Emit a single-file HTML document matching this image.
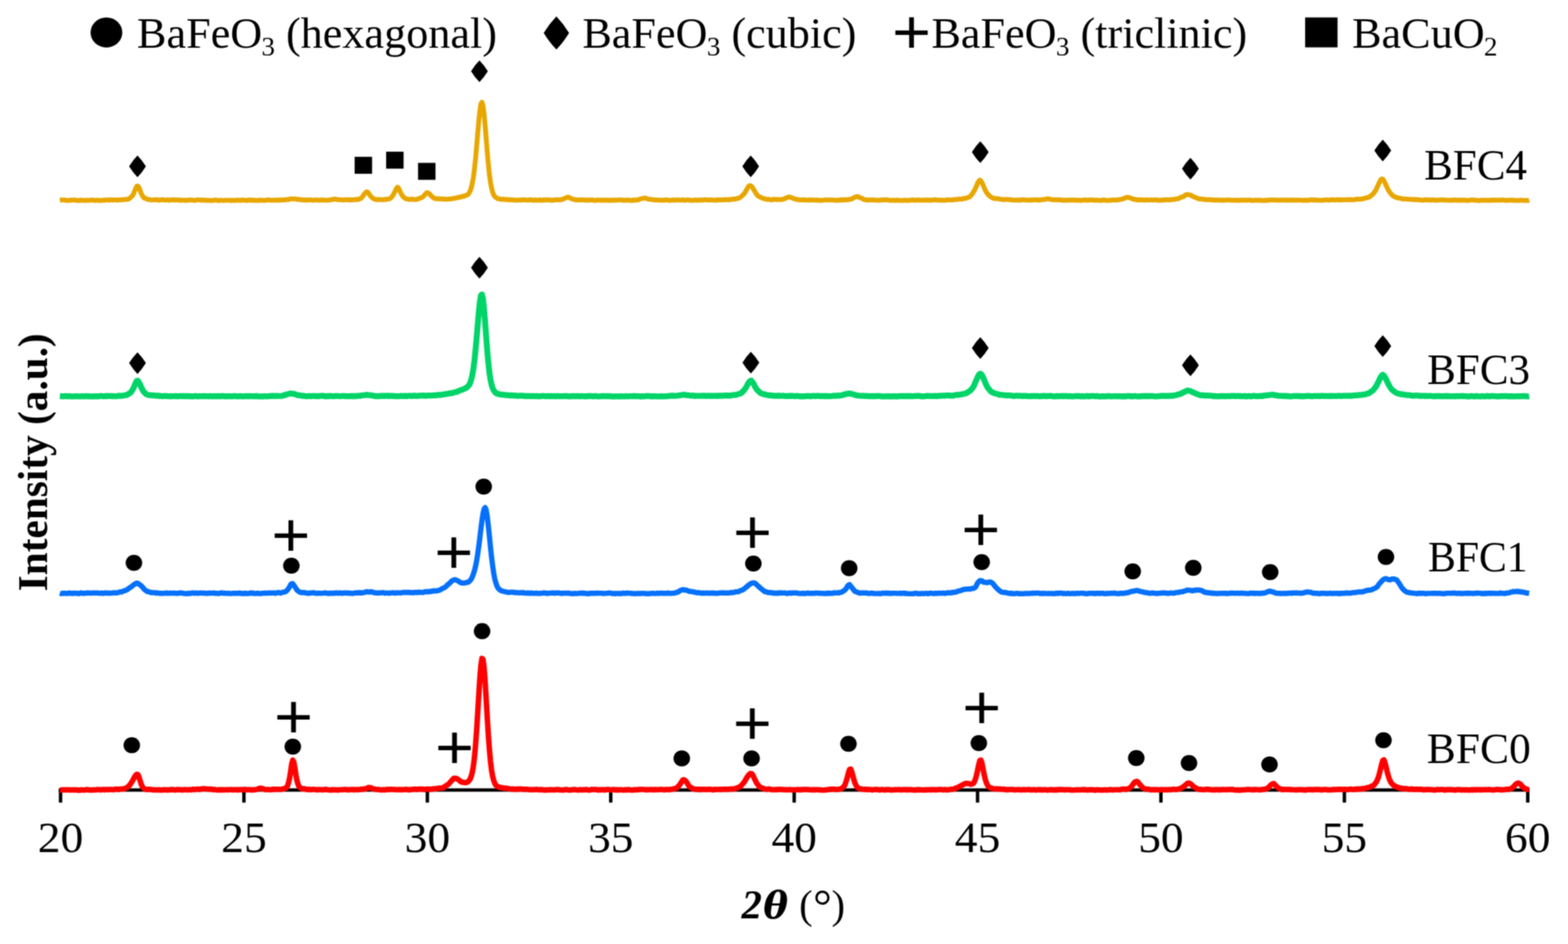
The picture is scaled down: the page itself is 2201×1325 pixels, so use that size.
<!DOCTYPE html>
<html lang="en"><head><meta charset="utf-8"><title>XRD patterns of BFC samples</title>
<style>
html,body{margin:0;padding:0;background:#fff;}
body{width:2201px;height:1325px;overflow:hidden;}
svg{display:block;}
text{font-family:"Liberation Serif", "DejaVu Serif", serif;fill:#000;}
.tk{font-size:62px;text-anchor:middle;}
.lg{font-size:62px;}
.sb{font-size:38px;}
.lb{font-size:62px;}
.pl{font-family:"Liberation Sans","DejaVu Sans",sans-serif;font-size:87px;}
.ay{font-size:60px;font-weight:bold;}
.a2{font-size:57px;font-weight:bold;font-style:italic;}
.at{font-family:"DejaVu Serif","Liberation Serif",serif;font-size:52px;font-weight:bold;font-style:italic;}
.au{font-size:57px;}
.dg{font-size:66px;}
.cv{fill:none;stroke-linejoin:round;stroke-linecap:butt;}
</style></head><body>
<svg width="2201" height="1325" viewBox="0 0 2201 1325">
<defs><filter id="soft" x="0" y="0" width="2201" height="1325" filterUnits="userSpaceOnUse" color-interpolation-filters="sRGB"><feConvolveMatrix order="3" kernelMatrix="1 2 1 2 4 2 1 2 1" divisor="16" edgeMode="duplicate" preserveAlpha="true"/></filter></defs>
<g filter="url(#soft)">
<rect width="2201" height="1325" fill="#fff"/>
<g stroke="#000" stroke-width="4.8" fill="none">
<line x1="82.5" y1="1108.8" x2="2147.0" y2="1108.8"/>
<line x1="85.0" y1="1108.8" x2="85.0" y2="1126.5"/>
<line x1="342.4" y1="1108.8" x2="342.4" y2="1126.5"/>
<line x1="599.9" y1="1108.8" x2="599.9" y2="1126.5"/>
<line x1="857.3" y1="1108.8" x2="857.3" y2="1126.5"/>
<line x1="1114.8" y1="1108.8" x2="1114.8" y2="1126.5"/>
<line x1="1372.2" y1="1108.8" x2="1372.2" y2="1126.5"/>
<line x1="1629.6" y1="1108.8" x2="1629.6" y2="1126.5"/>
<line x1="1887.1" y1="1108.8" x2="1887.1" y2="1126.5"/>
<line x1="2144.5" y1="1108.8" x2="2144.5" y2="1126.5"/>
</g>
<text class="tk" transform="translate(85.0,1195.7) scale(1.030,1)">20</text>
<text class="tk" transform="translate(342.4,1195.7) scale(1.030,1)">25</text>
<text class="tk" transform="translate(599.9,1195.7) scale(1.030,1)">30</text>
<text class="tk" transform="translate(857.3,1195.7) scale(1.030,1)">35</text>
<text class="tk" transform="translate(1114.8,1195.7) scale(1.030,1)">40</text>
<text class="tk" transform="translate(1372.2,1195.7) scale(1.030,1)">45</text>
<text class="tk" transform="translate(1629.6,1195.7) scale(1.030,1)">50</text>
<text class="tk" transform="translate(1887.1,1195.7) scale(1.030,1)">55</text>
<text class="tk" transform="translate(2144.5,1195.7) scale(1.030,1)">60</text>
<path class="cv" stroke="#E8A600" stroke-width="6.8" d="M84.0,280.9 L85.5,280.7 L87.0,280.8 L88.5,280.7 L90.0,280.6 L91.5,280.8 L93.0,281.3 L94.5,281.4 L96.0,281.4 L97.5,281.0 L99.0,281.1 L100.5,280.9 L102.0,280.8 L103.5,280.7 L105.0,280.7 L106.5,281.2 L108.0,281.4 L109.5,281.4 L111.0,281.4 L112.5,281.0 L114.0,280.9 L115.5,281.1 L117.0,281.2 L118.5,281.4 L120.0,281.4 L121.5,280.9 L123.0,281.1 L124.5,281.2 L126.0,281.1 L127.5,280.8 L129.0,280.9 L130.5,280.7 L132.0,281.2 L133.5,281.3 L135.0,281.2 L136.5,280.9 L138.0,281.3 L139.5,281.1 L141.0,281.3 L142.5,281.4 L144.0,281.1 L145.5,281.0 L147.0,281.0 L148.5,280.9 L150.0,280.7 L151.5,280.7 L153.0,281.0 L154.5,280.6 L156.0,280.4 L157.5,280.8 L159.0,280.6 L160.5,280.7 L162.0,280.7 L163.5,280.6 L165.0,281.0 L166.5,280.6 L168.0,280.5 L169.5,280.3 L171.0,280.5 L172.5,280.2 L174.0,280.1 L175.5,280.2 L177.0,279.9 L178.5,279.7 L180.0,279.6 L181.5,278.6 L183.0,277.5 L184.5,276.2 L186.0,274.6 L187.5,271.9 L189.0,268.1 L190.5,264.4 L192.0,261.4 L193.5,261.1 L195.0,263.0 L196.5,267.0 L198.0,270.9 L199.5,274.1 L201.0,276.3 L202.5,278.0 L204.0,278.4 L205.5,279.0 L207.0,279.8 L208.5,280.2 L210.0,280.1 L211.5,280.6 L213.0,280.6 L214.5,280.7 L216.0,280.5 L217.5,280.3 L219.0,280.5 L220.5,280.4 L222.0,280.5 L223.5,281.0 L225.0,280.8 L226.5,280.4 L228.0,280.4 L229.5,280.4 L231.0,280.9 L232.5,280.8 L234.0,280.7 L235.5,280.5 L237.0,281.1 L238.5,281.0 L240.0,280.7 L241.5,280.5 L243.0,280.5 L244.5,280.5 L246.0,280.9 L247.5,280.7 L249.0,280.5 L250.5,280.8 L252.0,280.7 L253.5,281.3 L255.0,280.8 L256.5,281.0 L258.0,281.2 L259.5,281.0 L261.0,281.4 L262.5,281.1 L264.0,280.9 L265.5,280.9 L267.0,280.6 L268.5,280.8 L270.0,280.8 L271.5,281.2 L273.0,281.3 L274.5,281.1 L276.0,280.7 L277.5,280.7 L279.0,280.7 L280.5,280.7 L282.0,280.7 L283.5,281.2 L285.0,280.8 L286.5,280.6 L288.0,281.2 L289.5,281.1 L291.0,281.4 L292.5,281.1 L294.0,281.4 L295.5,281.3 L297.0,281.3 L298.5,281.3 L300.0,281.2 L301.5,280.8 L303.0,280.7 L304.5,281.2 L306.0,281.4 L307.5,281.5 L309.0,281.1 L310.5,281.2 L312.0,281.3 L313.5,281.3 L315.0,281.4 L316.5,281.2 L318.0,281.2 L319.5,281.2 L321.0,281.0 L322.5,281.3 L324.0,281.5 L325.5,280.9 L327.0,281.3 L328.5,281.5 L330.0,281.3 L331.5,280.8 L333.0,281.2 L334.5,280.9 L336.0,281.3 L337.5,281.3 L339.0,280.8 L340.5,280.7 L342.0,281.0 L343.5,281.1 L345.0,281.2 L346.5,281.4 L348.0,281.0 L349.5,280.7 L351.0,281.2 L352.5,280.7 L354.0,281.2 L355.5,280.8 L357.0,281.2 L358.5,281.3 L360.0,281.4 L361.5,281.2 L363.0,281.4 L364.5,280.9 L366.0,281.1 L367.5,280.9 L369.0,281.3 L370.5,281.3 L372.0,281.1 L373.5,281.1 L375.0,280.7 L376.5,280.5 L378.0,280.9 L379.5,280.9 L381.0,281.2 L382.5,281.1 L384.0,280.8 L385.5,280.8 L387.0,281.1 L388.5,281.0 L390.0,280.6 L391.5,281.0 L393.0,281.1 L394.5,280.6 L396.0,280.7 L397.5,280.6 L399.0,280.7 L400.5,280.4 L402.0,280.1 L403.5,280.0 L405.0,280.2 L406.5,279.5 L408.0,279.0 L409.5,279.1 L411.0,279.3 L412.5,279.1 L414.0,279.1 L415.5,279.6 L417.0,279.8 L418.5,279.6 L420.0,280.2 L421.5,280.1 L423.0,280.2 L424.5,280.7 L426.0,280.6 L427.5,280.9 L429.0,280.6 L430.5,281.0 L432.0,280.7 L433.5,280.5 L435.0,280.7 L436.5,280.7 L438.0,280.8 L439.5,281.2 L441.0,281.1 L442.5,280.6 L444.0,280.7 L445.5,280.8 L447.0,280.9 L448.5,281.0 L450.0,280.9 L451.5,280.6 L453.0,280.6 L454.5,281.0 L456.0,280.8 L457.5,281.0 L459.0,281.2 L460.5,280.9 L462.0,280.8 L463.5,280.6 L465.0,280.1 L466.5,280.1 L468.0,279.7 L469.5,279.7 L471.0,279.4 L472.5,279.9 L474.0,280.2 L475.5,280.4 L477.0,280.4 L478.5,280.3 L480.0,280.7 L481.5,280.6 L483.0,280.8 L484.5,280.4 L486.0,280.3 L487.5,280.2 L489.0,280.7 L490.5,280.4 L492.0,280.8 L493.5,280.5 L495.0,280.5 L496.5,280.3 L498.0,280.4 L499.5,279.9 L501.0,279.9 L502.5,280.1 L504.0,279.4 L505.5,279.0 L507.0,277.9 L508.5,276.5 L510.0,274.4 L511.5,272.1 L513.0,270.5 L514.5,269.2 L516.0,269.6 L517.5,271.4 L519.0,273.8 L520.5,275.4 L522.0,277.1 L523.5,278.3 L525.0,279.0 L526.5,279.8 L528.0,280.0 L529.5,280.3 L531.0,279.9 L532.5,280.1 L534.0,280.2 L535.5,280.3 L537.0,280.2 L538.5,280.3 L540.0,279.9 L541.5,280.1 L543.0,279.6 L544.5,279.4 L546.0,279.3 L547.5,278.7 L549.0,277.4 L550.5,275.7 L552.0,273.5 L553.5,270.7 L555.0,267.6 L556.5,264.5 L558.0,262.8 L559.5,264.0 L561.0,267.4 L562.5,270.6 L564.0,273.5 L565.5,275.5 L567.0,277.0 L568.5,278.2 L570.0,279.0 L571.5,279.4 L573.0,279.4 L574.5,279.9 L576.0,279.9 L577.5,279.6 L579.0,279.4 L580.5,280.0 L582.0,280.2 L583.5,280.2 L585.0,279.8 L586.5,279.3 L588.0,278.7 L589.5,278.3 L591.0,277.5 L592.5,277.0 L594.0,275.9 L595.5,274.4 L597.0,272.3 L598.5,270.8 L600.0,270.3 L601.5,271.3 L603.0,272.2 L604.5,274.1 L606.0,275.7 L607.5,276.9 L609.0,278.1 L610.5,278.4 L612.0,278.9 L613.5,279.0 L615.0,279.0 L616.5,279.0 L618.0,279.3 L619.5,279.2 L621.0,279.1 L622.5,279.7 L624.0,279.4 L625.5,279.7 L627.0,279.6 L628.5,279.5 L630.0,279.3 L631.5,279.4 L633.0,279.2 L634.5,278.9 L636.0,278.6 L637.5,278.4 L639.0,278.2 L640.5,277.8 L642.0,277.5 L643.5,276.9 L645.0,277.0 L646.5,276.6 L648.0,275.9 L649.5,275.5 L651.0,275.6 L652.5,274.9 L654.0,274.3 L655.5,273.8 L657.0,272.9 L658.5,270.8 L660.0,268.0 L661.5,263.7 L663.0,257.2 L664.5,249.0 L666.0,237.1 L667.5,223.3 L669.0,206.1 L670.5,187.9 L672.0,170.7 L673.5,156.0 L675.0,146.0 L676.5,143.5 L678.0,148.5 L679.5,160.4 L681.0,176.4 L682.5,195.2 L684.0,214.0 L685.5,230.7 L687.0,245.0 L688.5,256.1 L690.0,264.0 L691.5,269.8 L693.0,273.7 L694.5,275.9 L696.0,277.0 L697.5,278.1 L699.0,279.0 L700.5,279.0 L702.0,279.4 L703.5,279.8 L705.0,279.8 L706.5,279.5 L708.0,279.9 L709.5,279.8 L711.0,280.3 L712.5,280.3 L714.0,280.1 L715.5,280.5 L717.0,280.5 L718.5,280.3 L720.0,280.6 L721.5,280.8 L723.0,280.9 L724.5,281.0 L726.0,280.8 L727.5,280.8 L729.0,280.8 L730.5,280.7 L732.0,281.0 L733.5,280.7 L735.0,280.4 L736.5,280.7 L738.0,280.7 L739.5,280.8 L741.0,280.8 L742.5,280.6 L744.0,280.5 L745.5,280.4 L747.0,280.8 L748.5,281.1 L750.0,281.1 L751.5,280.6 L753.0,281.1 L754.5,281.2 L756.0,281.0 L757.5,280.5 L759.0,281.0 L760.5,281.0 L762.0,281.0 L763.5,280.5 L765.0,280.9 L766.5,280.5 L768.0,280.7 L769.5,280.5 L771.0,280.6 L772.5,281.0 L774.0,281.0 L775.5,281.1 L777.0,280.7 L778.5,280.6 L780.0,280.7 L781.5,280.3 L783.0,280.4 L784.5,280.7 L786.0,280.5 L787.5,280.4 L789.0,279.6 L790.5,279.3 L792.0,278.8 L793.5,278.2 L795.0,277.4 L796.5,276.8 L798.0,276.6 L799.5,277.6 L801.0,278.5 L802.5,278.8 L804.0,279.5 L805.5,279.8 L807.0,280.2 L808.5,280.6 L810.0,280.5 L811.5,280.7 L813.0,280.5 L814.5,280.7 L816.0,280.4 L817.5,280.5 L819.0,280.6 L820.5,281.0 L822.0,280.7 L823.5,281.0 L825.0,280.6 L826.5,281.2 L828.0,280.8 L829.5,280.6 L831.0,280.6 L832.5,281.1 L834.0,281.1 L835.5,281.3 L837.0,281.1 L838.5,280.7 L840.0,280.8 L841.5,280.9 L843.0,281.3 L844.5,280.9 L846.0,280.7 L847.5,281.1 L849.0,280.8 L850.5,281.2 L852.0,280.9 L853.5,281.0 L855.0,281.1 L856.5,281.3 L858.0,280.8 L859.5,281.2 L861.0,280.8 L862.5,281.1 L864.0,280.7 L865.5,281.0 L867.0,280.8 L868.5,280.7 L870.0,280.5 L871.5,280.7 L873.0,280.7 L874.5,281.2 L876.0,281.1 L877.5,280.9 L879.0,281.3 L880.5,280.8 L882.0,280.7 L883.5,281.1 L885.0,281.3 L886.5,281.1 L888.0,281.3 L889.5,280.6 L891.0,281.0 L892.5,280.9 L894.0,280.7 L895.5,280.6 L897.0,279.9 L898.5,279.4 L900.0,278.8 L901.5,278.6 L903.0,278.3 L904.5,278.1 L906.0,278.0 L907.5,278.6 L909.0,279.2 L910.5,279.7 L912.0,279.6 L913.5,279.8 L915.0,280.0 L916.5,280.2 L918.0,280.6 L919.5,280.5 L921.0,280.8 L922.5,280.7 L924.0,280.7 L925.5,281.0 L927.0,281.2 L928.5,280.8 L930.0,280.8 L931.5,281.2 L933.0,280.8 L934.5,280.5 L936.0,280.6 L937.5,281.0 L939.0,281.1 L940.5,281.3 L942.0,281.1 L943.5,280.7 L945.0,280.7 L946.5,281.0 L948.0,280.9 L949.5,280.7 L951.0,280.7 L952.5,280.8 L954.0,280.8 L955.5,280.8 L957.0,280.6 L958.5,280.5 L960.0,281.0 L961.5,281.1 L963.0,280.9 L964.5,280.7 L966.0,280.7 L967.5,280.9 L969.0,281.2 L970.5,281.0 L972.0,281.3 L973.5,281.1 L975.0,280.7 L976.5,280.9 L978.0,281.0 L979.5,281.0 L981.0,281.1 L982.5,280.6 L984.0,280.7 L985.5,281.0 L987.0,280.6 L988.5,280.4 L990.0,280.4 L991.5,280.5 L993.0,280.6 L994.5,280.6 L996.0,280.8 L997.5,280.5 L999.0,280.5 L1000.5,280.8 L1002.0,280.8 L1003.5,281.0 L1005.0,281.1 L1006.5,280.6 L1008.0,280.5 L1009.5,280.6 L1011.0,280.6 L1012.5,280.4 L1014.0,280.7 L1015.5,280.3 L1017.0,280.3 L1018.5,280.0 L1020.0,280.4 L1021.5,280.3 L1023.0,280.5 L1024.5,279.9 L1026.0,280.0 L1027.5,279.8 L1029.0,279.3 L1030.5,279.5 L1032.0,279.5 L1033.5,278.7 L1035.0,278.7 L1036.5,278.3 L1038.0,277.6 L1039.5,276.8 L1041.0,275.5 L1042.5,273.9 L1044.0,272.5 L1045.5,270.7 L1047.0,268.0 L1048.5,265.3 L1050.0,262.6 L1051.5,260.9 L1053.0,260.4 L1054.5,261.2 L1056.0,262.8 L1057.5,265.4 L1059.0,267.7 L1060.5,270.4 L1062.0,272.8 L1063.5,274.6 L1065.0,275.4 L1066.5,276.5 L1068.0,277.0 L1069.5,277.8 L1071.0,278.7 L1072.5,278.7 L1074.0,279.3 L1075.5,279.7 L1077.0,279.9 L1078.5,279.6 L1080.0,280.0 L1081.5,280.3 L1083.0,280.5 L1084.5,279.9 L1086.0,279.7 L1087.5,279.8 L1089.0,280.0 L1090.5,280.1 L1092.0,279.8 L1093.5,280.1 L1095.0,280.2 L1096.5,280.1 L1098.0,279.8 L1099.5,279.5 L1101.0,279.2 L1102.5,278.2 L1104.0,277.7 L1105.5,276.9 L1107.0,276.4 L1108.5,276.8 L1110.0,277.0 L1111.5,277.6 L1113.0,278.2 L1114.5,279.0 L1116.0,279.2 L1117.5,279.9 L1119.0,279.8 L1120.5,280.5 L1122.0,280.3 L1123.5,280.7 L1125.0,280.7 L1126.5,280.6 L1128.0,280.5 L1129.5,280.6 L1131.0,280.9 L1132.5,280.8 L1134.0,280.8 L1135.5,280.6 L1137.0,280.8 L1138.5,280.6 L1140.0,280.7 L1141.5,280.9 L1143.0,280.9 L1144.5,280.9 L1146.0,281.0 L1147.5,280.7 L1149.0,281.1 L1150.5,281.1 L1152.0,281.1 L1153.5,281.3 L1155.0,281.0 L1156.5,280.8 L1158.0,280.7 L1159.5,280.7 L1161.0,280.7 L1162.5,280.7 L1164.0,280.6 L1165.5,280.8 L1167.0,280.7 L1168.5,280.7 L1170.0,280.9 L1171.5,280.8 L1173.0,281.1 L1174.5,281.2 L1176.0,280.8 L1177.5,281.1 L1179.0,280.7 L1180.5,280.4 L1182.0,281.0 L1183.5,280.5 L1185.0,280.2 L1186.5,280.7 L1188.0,280.2 L1189.5,280.4 L1191.0,280.3 L1192.5,279.8 L1194.0,279.4 L1195.5,279.4 L1197.0,278.5 L1198.5,277.5 L1200.0,276.8 L1201.5,276.4 L1203.0,275.9 L1204.5,275.9 L1206.0,277.0 L1207.5,277.5 L1209.0,278.1 L1210.5,278.6 L1212.0,279.8 L1213.5,280.0 L1215.0,280.5 L1216.5,280.6 L1218.0,281.0 L1219.5,280.7 L1221.0,280.6 L1222.5,280.8 L1224.0,280.5 L1225.5,280.6 L1227.0,280.9 L1228.5,280.9 L1230.0,280.9 L1231.5,281.2 L1233.0,281.0 L1234.5,281.1 L1236.0,280.9 L1237.5,280.6 L1239.0,280.7 L1240.5,280.6 L1242.0,280.5 L1243.5,280.6 L1245.0,280.5 L1246.5,280.7 L1248.0,281.0 L1249.5,281.2 L1251.0,281.3 L1252.5,281.0 L1254.0,281.1 L1255.5,281.3 L1257.0,281.0 L1258.5,281.3 L1260.0,280.8 L1261.5,281.2 L1263.0,281.3 L1264.5,281.4 L1266.0,281.4 L1267.5,281.3 L1269.0,281.0 L1270.5,281.1 L1272.0,281.3 L1273.5,281.1 L1275.0,281.1 L1276.5,281.3 L1278.0,280.9 L1279.5,280.8 L1281.0,280.5 L1282.5,281.0 L1284.0,281.0 L1285.5,281.1 L1287.0,280.8 L1288.5,280.6 L1290.0,280.8 L1291.5,281.1 L1293.0,280.9 L1294.5,280.8 L1296.0,280.8 L1297.5,281.1 L1299.0,280.7 L1300.5,281.0 L1302.0,280.6 L1303.5,280.9 L1305.0,281.0 L1306.5,280.9 L1308.0,281.0 L1309.5,280.7 L1311.0,280.5 L1312.5,280.5 L1314.0,280.5 L1315.5,280.8 L1317.0,280.8 L1318.5,280.8 L1320.0,281.1 L1321.5,281.0 L1323.0,281.0 L1324.5,281.1 L1326.0,281.1 L1327.5,280.9 L1329.0,280.5 L1330.5,280.5 L1332.0,280.6 L1333.5,280.7 L1335.0,280.7 L1336.5,280.6 L1338.0,280.5 L1339.5,280.1 L1341.0,280.1 L1342.5,279.8 L1344.0,279.9 L1345.5,279.5 L1347.0,279.2 L1348.5,279.6 L1350.0,279.6 L1351.5,279.1 L1353.0,278.5 L1354.5,278.6 L1356.0,278.4 L1357.5,277.5 L1359.0,277.2 L1360.5,276.6 L1362.0,275.4 L1363.5,273.7 L1365.0,271.7 L1366.5,269.4 L1368.0,266.8 L1369.5,263.9 L1371.0,260.4 L1372.5,256.6 L1374.0,254.2 L1375.5,252.8 L1377.0,254.1 L1378.5,256.5 L1380.0,259.8 L1381.5,263.4 L1383.0,267.1 L1384.5,269.6 L1386.0,271.6 L1387.5,273.6 L1389.0,275.0 L1390.5,276.2 L1392.0,277.1 L1393.5,277.8 L1395.0,278.5 L1396.5,278.5 L1398.0,278.9 L1399.5,278.8 L1401.0,279.0 L1402.5,279.1 L1404.0,279.7 L1405.5,279.7 L1407.0,280.0 L1408.5,280.3 L1410.0,280.1 L1411.5,279.9 L1413.0,279.9 L1414.5,280.2 L1416.0,280.2 L1417.5,280.0 L1419.0,280.5 L1420.5,280.6 L1422.0,280.8 L1423.5,280.9 L1425.0,280.9 L1426.5,280.9 L1428.0,280.9 L1429.5,280.7 L1431.0,280.9 L1432.5,281.1 L1434.0,280.6 L1435.5,280.4 L1437.0,280.3 L1438.5,280.5 L1440.0,280.9 L1441.5,280.8 L1443.0,281.0 L1444.5,280.8 L1446.0,280.8 L1447.5,280.6 L1449.0,280.8 L1450.5,280.6 L1452.0,280.3 L1453.5,280.5 L1455.0,280.6 L1456.5,280.9 L1458.0,280.5 L1459.5,280.8 L1461.0,280.7 L1462.5,280.1 L1464.0,280.1 L1465.5,280.0 L1467.0,279.8 L1468.5,279.4 L1470.0,279.0 L1471.5,279.1 L1473.0,279.4 L1474.5,279.8 L1476.0,279.8 L1477.5,280.4 L1479.0,280.5 L1480.5,280.3 L1482.0,280.4 L1483.5,280.3 L1485.0,280.6 L1486.5,280.4 L1488.0,280.7 L1489.5,280.6 L1491.0,281.0 L1492.5,281.1 L1494.0,280.8 L1495.5,281.1 L1497.0,281.0 L1498.5,280.8 L1500.0,281.2 L1501.5,280.7 L1503.0,280.8 L1504.5,280.9 L1506.0,280.7 L1507.5,280.9 L1509.0,281.2 L1510.5,280.9 L1512.0,281.1 L1513.5,280.8 L1515.0,281.2 L1516.5,281.4 L1518.0,280.9 L1519.5,281.1 L1521.0,280.9 L1522.5,280.6 L1524.0,280.6 L1525.5,281.0 L1527.0,281.0 L1528.5,281.0 L1530.0,280.7 L1531.5,280.6 L1533.0,280.7 L1534.5,280.9 L1536.0,281.2 L1537.5,281.0 L1539.0,280.9 L1540.5,281.2 L1542.0,281.2 L1543.5,281.2 L1545.0,281.3 L1546.5,281.1 L1548.0,280.8 L1549.5,280.6 L1551.0,280.9 L1552.5,281.1 L1554.0,281.3 L1555.5,281.3 L1557.0,281.1 L1558.5,280.9 L1560.0,281.2 L1561.5,280.7 L1563.0,280.7 L1564.5,280.7 L1566.0,280.8 L1567.5,280.8 L1569.0,280.4 L1570.5,280.4 L1572.0,280.0 L1573.5,279.8 L1575.0,279.4 L1576.5,278.9 L1578.0,278.6 L1579.5,277.9 L1581.0,277.1 L1582.5,276.9 L1584.0,277.2 L1585.5,277.4 L1587.0,277.9 L1588.5,278.7 L1590.0,279.4 L1591.5,279.5 L1593.0,280.1 L1594.5,280.0 L1596.0,280.6 L1597.5,280.4 L1599.0,280.8 L1600.5,280.4 L1602.0,280.6 L1603.5,280.5 L1605.0,280.9 L1606.5,281.0 L1608.0,280.6 L1609.5,280.4 L1611.0,280.8 L1612.5,280.8 L1614.0,280.7 L1615.5,280.7 L1617.0,280.7 L1618.5,280.8 L1620.0,280.7 L1621.5,280.5 L1623.0,280.6 L1624.5,281.1 L1626.0,281.1 L1627.5,281.0 L1629.0,281.1 L1630.5,280.8 L1632.0,280.6 L1633.5,280.8 L1635.0,280.4 L1636.5,280.7 L1638.0,280.3 L1639.5,280.5 L1641.0,280.4 L1642.5,280.6 L1644.0,280.0 L1645.5,280.2 L1647.0,280.2 L1648.5,279.6 L1650.0,279.6 L1651.5,279.1 L1653.0,279.0 L1654.5,278.8 L1656.0,277.7 L1657.5,277.1 L1659.0,276.5 L1660.5,276.1 L1662.0,275.5 L1663.5,274.1 L1665.0,273.3 L1666.5,273.0 L1668.0,273.2 L1669.5,273.5 L1671.0,273.8 L1672.5,274.6 L1674.0,275.4 L1675.5,276.2 L1677.0,276.8 L1678.5,277.2 L1680.0,278.0 L1681.5,278.7 L1683.0,279.3 L1684.5,279.2 L1686.0,279.2 L1687.5,279.6 L1689.0,279.7 L1690.5,280.0 L1692.0,279.9 L1693.5,280.3 L1695.0,280.4 L1696.5,280.3 L1698.0,280.2 L1699.5,280.5 L1701.0,280.3 L1702.5,280.8 L1704.0,280.6 L1705.5,281.0 L1707.0,280.6 L1708.5,280.6 L1710.0,280.9 L1711.5,280.9 L1713.0,280.8 L1714.5,281.1 L1716.0,280.7 L1717.5,281.1 L1719.0,281.0 L1720.5,280.8 L1722.0,280.7 L1723.5,280.7 L1725.0,280.9 L1726.5,280.9 L1728.0,280.9 L1729.5,281.0 L1731.0,281.2 L1732.5,281.2 L1734.0,280.9 L1735.5,281.0 L1737.0,281.1 L1738.5,281.3 L1740.0,281.0 L1741.5,281.0 L1743.0,281.2 L1744.5,280.9 L1746.0,280.8 L1747.5,281.0 L1749.0,280.9 L1750.5,281.2 L1752.0,280.9 L1753.5,280.8 L1755.0,281.0 L1756.5,281.0 L1758.0,281.4 L1759.5,281.4 L1761.0,281.1 L1762.5,281.0 L1764.0,281.1 L1765.5,281.0 L1767.0,281.1 L1768.5,280.9 L1770.0,281.2 L1771.5,281.4 L1773.0,281.3 L1774.5,281.3 L1776.0,281.4 L1777.5,281.0 L1779.0,281.3 L1780.5,280.9 L1782.0,280.7 L1783.5,280.8 L1785.0,280.7 L1786.5,280.7 L1788.0,280.9 L1789.5,280.7 L1791.0,280.8 L1792.5,280.8 L1794.0,281.2 L1795.5,280.8 L1797.0,280.9 L1798.5,280.9 L1800.0,280.7 L1801.5,280.8 L1803.0,280.8 L1804.5,280.8 L1806.0,280.9 L1807.5,281.0 L1809.0,280.9 L1810.5,280.9 L1812.0,281.0 L1813.5,281.0 L1815.0,280.7 L1816.5,281.0 L1818.0,280.9 L1819.5,281.2 L1821.0,280.8 L1822.5,280.9 L1824.0,280.8 L1825.5,281.0 L1827.0,281.2 L1828.5,281.1 L1830.0,281.1 L1831.5,281.3 L1833.0,280.9 L1834.5,281.3 L1836.0,281.0 L1837.5,281.0 L1839.0,280.7 L1840.5,280.5 L1842.0,280.5 L1843.5,280.8 L1845.0,280.6 L1846.5,281.0 L1848.0,280.7 L1849.5,280.9 L1851.0,281.2 L1852.5,281.1 L1854.0,281.2 L1855.5,281.2 L1857.0,281.2 L1858.5,280.6 L1860.0,280.7 L1861.5,280.6 L1863.0,280.7 L1864.5,280.9 L1866.0,281.0 L1867.5,280.6 L1869.0,280.4 L1870.5,280.3 L1872.0,280.7 L1873.5,280.9 L1875.0,280.5 L1876.5,280.3 L1878.0,280.2 L1879.5,280.8 L1881.0,280.3 L1882.5,280.5 L1884.0,280.8 L1885.5,280.3 L1887.0,280.5 L1888.5,280.3 L1890.0,280.4 L1891.5,280.3 L1893.0,280.0 L1894.5,280.4 L1896.0,280.2 L1897.5,280.5 L1899.0,280.3 L1900.5,280.4 L1902.0,280.2 L1903.5,279.6 L1905.0,279.2 L1906.5,279.7 L1908.0,279.6 L1909.5,279.5 L1911.0,279.4 L1912.5,278.9 L1914.0,278.8 L1915.5,278.5 L1917.0,277.8 L1918.5,277.5 L1920.0,277.4 L1921.5,276.6 L1923.0,276.0 L1924.5,274.5 L1926.0,273.4 L1927.5,272.0 L1929.0,270.2 L1930.5,268.1 L1932.0,265.2 L1933.5,262.1 L1935.0,258.7 L1936.5,255.4 L1938.0,252.7 L1939.5,251.2 L1941.0,251.3 L1942.5,253.6 L1944.0,256.3 L1945.5,259.9 L1947.0,263.0 L1948.5,266.4 L1950.0,268.6 L1951.5,270.7 L1953.0,272.4 L1954.5,274.2 L1956.0,275.4 L1957.5,275.9 L1959.0,276.5 L1960.5,277.4 L1962.0,277.7 L1963.5,277.9 L1965.0,278.1 L1966.5,278.7 L1968.0,279.1 L1969.5,279.4 L1971.0,279.1 L1972.5,279.4 L1974.0,279.3 L1975.5,279.6 L1977.0,279.6 L1978.5,279.6 L1980.0,279.9 L1981.5,279.8 L1983.0,280.2 L1984.5,280.0 L1986.0,280.0 L1987.5,280.4 L1989.0,280.2 L1990.5,280.2 L1992.0,280.6 L1993.5,280.6 L1995.0,280.8 L1996.5,280.9 L1998.0,281.0 L1999.5,280.5 L2001.0,280.5 L2002.5,280.6 L2004.0,280.5 L2005.5,280.9 L2007.0,280.7 L2008.5,281.0 L2010.0,280.5 L2011.5,280.6 L2013.0,280.8 L2014.5,281.0 L2016.0,280.9 L2017.5,281.1 L2019.0,280.8 L2020.5,280.7 L2022.0,280.6 L2023.5,280.5 L2025.0,280.7 L2026.5,281.0 L2028.0,280.7 L2029.5,280.8 L2031.0,280.8 L2032.5,281.2 L2034.0,281.0 L2035.5,281.2 L2037.0,280.8 L2038.5,281.2 L2040.0,280.7 L2041.5,280.6 L2043.0,280.9 L2044.5,280.9 L2046.0,281.0 L2047.5,281.0 L2049.0,280.9 L2050.5,281.0 L2052.0,280.9 L2053.5,281.0 L2055.0,281.1 L2056.5,280.9 L2058.0,281.1 L2059.5,281.3 L2061.0,281.4 L2062.5,280.8 L2064.0,280.9 L2065.5,280.7 L2067.0,280.6 L2068.5,280.8 L2070.0,281.1 L2071.5,280.8 L2073.0,281.1 L2074.5,281.3 L2076.0,281.5 L2077.5,281.4 L2079.0,280.9 L2080.5,281.1 L2082.0,281.1 L2083.5,280.9 L2085.0,281.2 L2086.5,281.0 L2088.0,281.2 L2089.5,281.4 L2091.0,281.1 L2092.5,280.8 L2094.0,281.2 L2095.5,280.8 L2097.0,280.7 L2098.5,281.2 L2100.0,280.9 L2101.5,280.8 L2103.0,280.9 L2104.5,281.1 L2106.0,280.8 L2107.5,280.8 L2109.0,280.6 L2110.5,280.7 L2112.0,281.1 L2113.5,281.2 L2115.0,281.2 L2116.5,281.4 L2118.0,280.8 L2119.5,280.8 L2121.0,281.0 L2122.5,280.9 L2124.0,281.3 L2125.5,281.0 L2127.0,281.3 L2128.5,281.3 L2130.0,281.3 L2131.5,281.5 L2133.0,281.2 L2134.5,281.0 L2136.0,281.0 L2137.5,281.2 L2139.0,281.3 L2140.5,281.3 L2142.0,281.3 L2143.5,281.3 L2145.0,281.3 L2146.5,280.9"/>
<path class="cv" stroke="#00D468" stroke-width="8.3" d="M84.0,556.1 L85.5,556.2 L87.0,556.1 L88.5,556.3 L90.0,556.3 L91.5,556.0 L93.0,555.9 L94.5,556.3 L96.0,556.1 L97.5,556.0 L99.0,556.4 L100.5,556.3 L102.0,556.5 L103.5,556.3 L105.0,556.3 L106.5,556.1 L108.0,556.2 L109.5,556.4 L111.0,556.3 L112.5,556.4 L114.0,556.4 L115.5,556.0 L117.0,556.3 L118.5,556.3 L120.0,556.1 L121.5,555.9 L123.0,556.3 L124.5,556.2 L126.0,556.3 L127.5,556.4 L129.0,556.4 L130.5,556.5 L132.0,556.2 L133.5,556.3 L135.0,556.2 L136.5,556.4 L138.0,556.4 L139.5,556.0 L141.0,555.8 L142.5,555.8 L144.0,556.2 L145.5,556.1 L147.0,556.1 L148.5,555.9 L150.0,556.0 L151.5,555.9 L153.0,555.8 L154.5,555.9 L156.0,555.9 L157.5,556.1 L159.0,556.0 L160.5,556.1 L162.0,556.1 L163.5,556.1 L165.0,555.9 L166.5,555.4 L168.0,555.6 L169.5,555.7 L171.0,555.6 L172.5,555.3 L174.0,555.1 L175.5,554.6 L177.0,554.5 L178.5,554.0 L180.0,553.2 L181.5,552.2 L183.0,551.3 L184.5,549.9 L186.0,547.1 L187.5,544.4 L189.0,540.8 L190.5,537.1 L192.0,534.6 L193.5,534.5 L195.0,536.6 L196.5,539.4 L198.0,543.1 L199.5,546.0 L201.0,548.8 L202.5,550.6 L204.0,552.3 L205.5,553.4 L207.0,553.9 L208.5,554.6 L210.0,554.6 L211.5,554.6 L213.0,555.0 L214.5,554.9 L216.0,555.0 L217.5,555.2 L219.0,555.5 L220.5,555.4 L222.0,555.3 L223.5,555.8 L225.0,555.7 L226.5,556.0 L228.0,556.2 L229.5,555.9 L231.0,555.9 L232.5,555.9 L234.0,556.0 L235.5,556.1 L237.0,556.1 L238.5,556.1 L240.0,556.3 L241.5,556.2 L243.0,556.1 L244.5,556.2 L246.0,556.0 L247.5,555.9 L249.0,556.3 L250.5,556.2 L252.0,556.2 L253.5,555.8 L255.0,556.0 L256.5,556.1 L258.0,555.8 L259.5,556.1 L261.0,556.2 L262.5,555.9 L264.0,556.1 L265.5,556.1 L267.0,556.3 L268.5,556.1 L270.0,556.3 L271.5,556.4 L273.0,556.0 L274.5,555.8 L276.0,556.1 L277.5,556.4 L279.0,556.1 L280.5,556.1 L282.0,556.2 L283.5,556.1 L285.0,556.1 L286.5,556.0 L288.0,556.0 L289.5,556.2 L291.0,556.1 L292.5,556.1 L294.0,556.3 L295.5,556.0 L297.0,556.1 L298.5,556.3 L300.0,556.1 L301.5,556.0 L303.0,556.3 L304.5,556.1 L306.0,556.0 L307.5,556.1 L309.0,556.3 L310.5,556.0 L312.0,556.0 L313.5,556.0 L315.0,556.3 L316.5,556.2 L318.0,556.4 L319.5,556.1 L321.0,556.1 L322.5,556.2 L324.0,556.4 L325.5,556.3 L327.0,556.1 L328.5,555.9 L330.0,556.1 L331.5,556.0 L333.0,556.3 L334.5,556.4 L336.0,556.1 L337.5,556.0 L339.0,556.3 L340.5,556.3 L342.0,556.4 L343.5,556.2 L345.0,556.0 L346.5,556.0 L348.0,556.3 L349.5,556.1 L351.0,556.0 L352.5,556.1 L354.0,556.1 L355.5,556.1 L357.0,556.4 L358.5,556.0 L360.0,555.8 L361.5,556.3 L363.0,556.4 L364.5,556.5 L366.0,556.3 L367.5,556.4 L369.0,556.5 L370.5,556.1 L372.0,556.2 L373.5,556.3 L375.0,556.3 L376.5,556.2 L378.0,556.0 L379.5,555.9 L381.0,555.8 L382.5,555.6 L384.0,555.9 L385.5,555.8 L387.0,556.0 L388.5,555.6 L390.0,555.9 L391.5,555.9 L393.0,555.9 L394.5,555.8 L396.0,555.6 L397.5,555.2 L399.0,554.5 L400.5,554.4 L402.0,553.7 L403.5,553.3 L405.0,553.0 L406.5,552.6 L408.0,552.2 L409.5,552.5 L411.0,552.6 L412.5,552.8 L414.0,553.1 L415.5,553.9 L417.0,554.3 L418.5,554.8 L420.0,554.9 L421.5,555.0 L423.0,555.3 L424.5,555.7 L426.0,555.5 L427.5,555.9 L429.0,556.1 L430.5,556.2 L432.0,556.2 L433.5,555.8 L435.0,556.0 L436.5,556.2 L438.0,555.8 L439.5,555.8 L441.0,555.8 L442.5,556.0 L444.0,556.0 L445.5,556.0 L447.0,556.2 L448.5,555.8 L450.0,555.7 L451.5,555.7 L453.0,555.7 L454.5,555.7 L456.0,556.2 L457.5,556.4 L459.0,556.0 L460.5,556.0 L462.0,556.0 L463.5,555.9 L465.0,555.9 L466.5,556.1 L468.0,556.2 L469.5,556.0 L471.0,555.9 L472.5,555.9 L474.0,555.8 L475.5,556.0 L477.0,556.2 L478.5,556.0 L480.0,555.8 L481.5,555.8 L483.0,555.9 L484.5,556.0 L486.0,556.2 L487.5,556.0 L489.0,556.2 L490.5,556.2 L492.0,556.0 L493.5,555.9 L495.0,556.0 L496.5,556.1 L498.0,555.9 L499.5,556.0 L501.0,555.9 L502.5,555.7 L504.0,555.7 L505.5,555.7 L507.0,555.2 L508.5,555.0 L510.0,554.8 L511.5,554.7 L513.0,554.6 L514.5,554.1 L516.0,554.4 L517.5,554.6 L519.0,554.6 L520.5,554.9 L522.0,555.0 L523.5,555.5 L525.0,555.7 L526.5,556.0 L528.0,556.1 L529.5,556.0 L531.0,556.1 L532.5,556.0 L534.0,555.7 L535.5,555.9 L537.0,555.6 L538.5,555.6 L540.0,555.9 L541.5,555.7 L543.0,555.6 L544.5,555.5 L546.0,556.0 L547.5,555.7 L549.0,555.6 L550.5,556.0 L552.0,555.7 L553.5,556.0 L555.0,556.0 L556.5,556.1 L558.0,556.2 L559.5,556.1 L561.0,556.1 L562.5,555.7 L564.0,555.9 L565.5,555.9 L567.0,556.0 L568.5,555.6 L570.0,555.9 L571.5,556.1 L573.0,555.6 L574.5,555.6 L576.0,555.7 L577.5,555.9 L579.0,555.6 L580.5,555.5 L582.0,555.4 L583.5,555.6 L585.0,555.8 L586.5,555.6 L588.0,555.5 L589.5,555.4 L591.0,555.4 L592.5,555.4 L594.0,555.1 L595.5,555.3 L597.0,555.6 L598.5,555.4 L600.0,555.4 L601.5,555.1 L603.0,555.2 L604.5,555.3 L606.0,555.2 L607.5,555.0 L609.0,554.9 L610.5,554.9 L612.0,555.0 L613.5,554.5 L615.0,554.2 L616.5,554.4 L618.0,554.5 L619.5,554.1 L621.0,553.9 L622.5,553.8 L624.0,553.3 L625.5,553.1 L627.0,552.8 L628.5,552.7 L630.0,552.4 L631.5,552.0 L633.0,551.9 L634.5,551.8 L636.0,551.2 L637.5,550.9 L639.0,550.4 L640.5,550.2 L642.0,549.7 L643.5,549.0 L645.0,548.3 L646.5,547.6 L648.0,547.3 L649.5,546.7 L651.0,546.0 L652.5,545.3 L654.0,544.5 L655.5,543.7 L657.0,542.0 L658.5,540.4 L660.0,537.2 L661.5,532.9 L663.0,526.4 L664.5,517.7 L666.0,506.0 L667.5,491.5 L669.0,474.8 L670.5,456.9 L672.0,439.4 L673.5,424.3 L675.0,414.9 L676.5,413.3 L678.0,420.0 L679.5,434.1 L681.0,452.8 L682.5,473.2 L684.0,492.5 L685.5,509.5 L687.0,523.0 L688.5,532.8 L690.0,539.8 L691.5,544.7 L693.0,547.8 L694.5,550.1 L696.0,551.5 L697.5,552.5 L699.0,552.7 L700.5,553.4 L702.0,553.5 L703.5,553.7 L705.0,554.2 L706.5,554.0 L708.0,554.1 L709.5,554.6 L711.0,554.6 L712.5,554.7 L714.0,554.9 L715.5,555.1 L717.0,554.9 L718.5,555.0 L720.0,555.1 L721.5,555.3 L723.0,555.2 L724.5,555.4 L726.0,555.7 L727.5,555.6 L729.0,555.6 L730.5,555.4 L732.0,555.4 L733.5,555.7 L735.0,555.5 L736.5,555.9 L738.0,556.1 L739.5,555.7 L741.0,556.0 L742.5,555.8 L744.0,556.0 L745.5,556.1 L747.0,555.8 L748.5,556.0 L750.0,556.0 L751.5,556.2 L753.0,555.9 L754.5,556.1 L756.0,556.3 L757.5,556.2 L759.0,556.1 L760.5,555.8 L762.0,555.9 L763.5,555.9 L765.0,556.1 L766.5,556.2 L768.0,556.1 L769.5,555.9 L771.0,556.1 L772.5,556.1 L774.0,555.9 L775.5,556.2 L777.0,556.2 L778.5,555.9 L780.0,556.3 L781.5,556.0 L783.0,555.9 L784.5,556.2 L786.0,556.2 L787.5,556.2 L789.0,556.2 L790.5,556.1 L792.0,556.0 L793.5,555.9 L795.0,555.8 L796.5,556.1 L798.0,556.3 L799.5,556.2 L801.0,556.3 L802.5,556.1 L804.0,556.0 L805.5,556.0 L807.0,556.3 L808.5,556.0 L810.0,556.1 L811.5,556.0 L813.0,556.3 L814.5,556.1 L816.0,556.0 L817.5,556.1 L819.0,556.2 L820.5,556.3 L822.0,556.1 L823.5,556.4 L825.0,556.0 L826.5,556.0 L828.0,555.9 L829.5,555.8 L831.0,556.2 L832.5,556.3 L834.0,556.1 L835.5,555.9 L837.0,556.0 L838.5,556.3 L840.0,556.4 L841.5,556.4 L843.0,556.3 L844.5,556.0 L846.0,556.1 L847.5,556.0 L849.0,556.1 L850.5,556.2 L852.0,556.0 L853.5,556.0 L855.0,556.3 L856.5,555.9 L858.0,556.3 L859.5,556.5 L861.0,556.6 L862.5,556.3 L864.0,556.3 L865.5,556.3 L867.0,556.3 L868.5,556.5 L870.0,556.4 L871.5,556.2 L873.0,556.4 L874.5,556.3 L876.0,556.3 L877.5,556.4 L879.0,556.0 L880.5,556.3 L882.0,556.3 L883.5,556.2 L885.0,556.2 L886.5,556.2 L888.0,556.0 L889.5,556.1 L891.0,555.9 L892.5,556.1 L894.0,556.2 L895.5,556.2 L897.0,556.2 L898.5,556.5 L900.0,556.5 L901.5,556.1 L903.0,556.3 L904.5,556.3 L906.0,556.0 L907.5,556.0 L909.0,555.9 L910.5,555.8 L912.0,556.0 L913.5,556.4 L915.0,556.1 L916.5,556.4 L918.0,556.3 L919.5,556.0 L921.0,556.3 L922.5,556.3 L924.0,556.4 L925.5,556.4 L927.0,556.4 L928.5,556.1 L930.0,556.3 L931.5,556.4 L933.0,556.4 L934.5,556.2 L936.0,556.2 L937.5,556.1 L939.0,555.8 L940.5,555.6 L942.0,555.5 L943.5,555.5 L945.0,555.5 L946.5,555.6 L948.0,555.7 L949.5,555.5 L951.0,555.3 L952.5,555.2 L954.0,554.8 L955.5,554.6 L957.0,554.5 L958.5,554.2 L960.0,553.9 L961.5,554.4 L963.0,554.6 L964.5,554.6 L966.0,554.7 L967.5,555.0 L969.0,555.3 L970.5,555.3 L972.0,555.2 L973.5,555.3 L975.0,555.8 L976.5,555.6 L978.0,555.7 L979.5,555.6 L981.0,555.6 L982.5,555.6 L984.0,555.7 L985.5,555.6 L987.0,555.5 L988.5,555.5 L990.0,555.6 L991.5,555.8 L993.0,555.6 L994.5,555.5 L996.0,555.7 L997.5,555.7 L999.0,555.9 L1000.5,555.6 L1002.0,555.7 L1003.5,555.7 L1005.0,555.5 L1006.5,555.9 L1008.0,555.6 L1009.5,555.4 L1011.0,555.5 L1012.5,555.4 L1014.0,555.6 L1015.5,555.4 L1017.0,555.2 L1018.5,555.1 L1020.0,555.4 L1021.5,555.2 L1023.0,555.3 L1024.5,555.1 L1026.0,555.3 L1027.5,554.8 L1029.0,554.5 L1030.5,554.3 L1032.0,554.4 L1033.5,554.1 L1035.0,553.6 L1036.5,553.0 L1038.0,552.7 L1039.5,552.3 L1041.0,551.3 L1042.5,549.8 L1044.0,548.2 L1045.5,546.3 L1047.0,544.1 L1048.5,541.4 L1050.0,538.5 L1051.5,536.3 L1053.0,534.8 L1054.5,534.2 L1056.0,535.9 L1057.5,538.1 L1059.0,541.1 L1060.5,543.9 L1062.0,546.4 L1063.5,547.9 L1065.0,549.4 L1066.5,550.8 L1068.0,552.0 L1069.5,552.4 L1071.0,552.9 L1072.5,553.7 L1074.0,553.7 L1075.5,554.1 L1077.0,554.3 L1078.5,554.7 L1080.0,555.1 L1081.5,554.9 L1083.0,555.2 L1084.5,555.4 L1086.0,555.5 L1087.5,555.5 L1089.0,555.7 L1090.5,555.5 L1092.0,555.5 L1093.5,555.4 L1095.0,555.7 L1096.5,555.7 L1098.0,555.6 L1099.5,555.5 L1101.0,555.8 L1102.5,555.9 L1104.0,556.0 L1105.5,555.8 L1107.0,555.9 L1108.5,555.7 L1110.0,555.9 L1111.5,555.6 L1113.0,555.8 L1114.5,556.0 L1116.0,556.1 L1117.5,555.8 L1119.0,555.7 L1120.5,556.1 L1122.0,556.1 L1123.5,556.3 L1125.0,556.3 L1126.5,556.1 L1128.0,556.3 L1129.5,556.3 L1131.0,556.0 L1132.5,556.0 L1134.0,555.8 L1135.5,555.9 L1137.0,556.3 L1138.5,555.9 L1140.0,556.0 L1141.5,555.8 L1143.0,555.7 L1144.5,556.0 L1146.0,555.9 L1147.5,555.7 L1149.0,555.7 L1150.5,556.0 L1152.0,556.1 L1153.5,555.8 L1155.0,555.8 L1156.5,556.2 L1158.0,555.9 L1159.5,556.0 L1161.0,555.9 L1162.5,556.1 L1164.0,556.1 L1165.5,556.2 L1167.0,556.0 L1168.5,555.7 L1170.0,555.6 L1171.5,555.4 L1173.0,555.8 L1174.5,555.4 L1176.0,555.2 L1177.5,555.5 L1179.0,555.1 L1180.5,555.2 L1182.0,554.5 L1183.5,554.2 L1185.0,553.7 L1186.5,553.5 L1188.0,553.0 L1189.5,552.6 L1191.0,552.4 L1192.5,552.5 L1194.0,552.4 L1195.5,552.9 L1197.0,553.3 L1198.5,553.5 L1200.0,554.3 L1201.5,554.7 L1203.0,555.1 L1204.5,555.1 L1206.0,555.3 L1207.5,555.5 L1209.0,555.7 L1210.5,555.5 L1212.0,555.6 L1213.5,555.8 L1215.0,555.6 L1216.5,555.8 L1218.0,556.0 L1219.5,556.0 L1221.0,556.1 L1222.5,556.1 L1224.0,555.9 L1225.5,555.9 L1227.0,556.3 L1228.5,556.0 L1230.0,556.0 L1231.5,555.8 L1233.0,555.8 L1234.5,555.8 L1236.0,556.2 L1237.5,556.3 L1239.0,556.4 L1240.5,556.5 L1242.0,556.3 L1243.5,556.4 L1245.0,556.3 L1246.5,556.1 L1248.0,556.4 L1249.5,556.4 L1251.0,556.5 L1252.5,556.2 L1254.0,556.3 L1255.5,556.1 L1257.0,556.4 L1258.5,556.5 L1260.0,556.1 L1261.5,556.4 L1263.0,556.0 L1264.5,555.8 L1266.0,556.1 L1267.5,556.0 L1269.0,556.0 L1270.5,556.1 L1272.0,555.8 L1273.5,556.1 L1275.0,555.9 L1276.5,556.0 L1278.0,555.9 L1279.5,556.1 L1281.0,556.2 L1282.5,556.0 L1284.0,555.8 L1285.5,555.8 L1287.0,555.9 L1288.5,555.7 L1290.0,555.7 L1291.5,556.0 L1293.0,556.1 L1294.5,556.3 L1296.0,556.4 L1297.5,556.3 L1299.0,556.0 L1300.5,555.8 L1302.0,555.7 L1303.5,555.8 L1305.0,555.9 L1306.5,555.9 L1308.0,555.8 L1309.5,556.0 L1311.0,555.8 L1312.5,555.7 L1314.0,556.0 L1315.5,556.0 L1317.0,555.7 L1318.5,555.5 L1320.0,555.8 L1321.5,555.4 L1323.0,555.3 L1324.5,555.4 L1326.0,555.5 L1327.5,555.2 L1329.0,555.1 L1330.5,555.0 L1332.0,555.3 L1333.5,555.2 L1335.0,555.4 L1336.5,555.4 L1338.0,555.4 L1339.5,554.8 L1341.0,554.5 L1342.5,554.2 L1344.0,554.3 L1345.5,554.1 L1347.0,553.8 L1348.5,553.8 L1350.0,553.4 L1351.5,553.1 L1353.0,552.7 L1354.5,552.6 L1356.0,552.0 L1357.5,551.2 L1359.0,550.2 L1360.5,549.3 L1362.0,548.2 L1363.5,546.7 L1365.0,544.9 L1366.5,542.5 L1368.0,539.2 L1369.5,535.7 L1371.0,532.4 L1372.5,529.0 L1374.0,526.0 L1375.5,524.6 L1377.0,524.8 L1378.5,526.6 L1380.0,529.7 L1381.5,533.1 L1383.0,537.0 L1384.5,540.5 L1386.0,543.4 L1387.5,545.4 L1389.0,547.3 L1390.5,549.0 L1392.0,550.2 L1393.5,551.0 L1395.0,551.6 L1396.5,552.2 L1398.0,552.5 L1399.5,552.8 L1401.0,553.5 L1402.5,554.0 L1404.0,554.1 L1405.5,554.2 L1407.0,554.3 L1408.5,554.5 L1410.0,554.8 L1411.5,554.8 L1413.0,555.2 L1414.5,554.9 L1416.0,554.9 L1417.5,555.1 L1419.0,555.2 L1420.5,555.5 L1422.0,555.6 L1423.5,555.8 L1425.0,555.7 L1426.5,555.3 L1428.0,555.5 L1429.5,555.6 L1431.0,555.6 L1432.5,555.5 L1434.0,555.8 L1435.5,556.0 L1437.0,555.6 L1438.5,555.8 L1440.0,555.7 L1441.5,555.8 L1443.0,556.1 L1444.5,556.2 L1446.0,556.1 L1447.5,555.8 L1449.0,556.1 L1450.5,555.8 L1452.0,555.8 L1453.5,556.1 L1455.0,555.9 L1456.5,555.8 L1458.0,556.2 L1459.5,556.3 L1461.0,556.0 L1462.5,556.0 L1464.0,555.9 L1465.5,555.7 L1467.0,555.8 L1468.5,556.2 L1470.0,555.9 L1471.5,555.8 L1473.0,555.8 L1474.5,555.7 L1476.0,555.9 L1477.5,556.2 L1479.0,556.3 L1480.5,556.3 L1482.0,556.4 L1483.5,555.9 L1485.0,555.9 L1486.5,556.3 L1488.0,555.9 L1489.5,555.9 L1491.0,556.0 L1492.5,555.9 L1494.0,556.1 L1495.5,555.8 L1497.0,555.9 L1498.5,556.3 L1500.0,556.0 L1501.5,556.3 L1503.0,556.0 L1504.5,556.4 L1506.0,556.4 L1507.5,556.3 L1509.0,556.0 L1510.5,555.8 L1512.0,556.2 L1513.5,556.0 L1515.0,555.9 L1516.5,556.3 L1518.0,556.4 L1519.5,556.0 L1521.0,556.4 L1522.5,556.3 L1524.0,556.1 L1525.5,555.9 L1527.0,556.0 L1528.5,556.4 L1530.0,556.1 L1531.5,555.9 L1533.0,555.9 L1534.5,555.8 L1536.0,555.9 L1537.5,556.3 L1539.0,556.0 L1540.5,555.9 L1542.0,556.3 L1543.5,556.5 L1545.0,556.6 L1546.5,556.2 L1548.0,556.1 L1549.5,556.4 L1551.0,556.3 L1552.5,556.3 L1554.0,556.1 L1555.5,555.9 L1557.0,556.0 L1558.5,556.2 L1560.0,556.4 L1561.5,556.3 L1563.0,556.2 L1564.5,556.2 L1566.0,556.2 L1567.5,556.2 L1569.0,556.4 L1570.5,556.1 L1572.0,556.2 L1573.5,556.4 L1575.0,556.5 L1576.5,556.1 L1578.0,556.4 L1579.5,556.5 L1581.0,556.1 L1582.5,556.0 L1584.0,555.9 L1585.5,555.8 L1587.0,556.3 L1588.5,556.2 L1590.0,556.4 L1591.5,556.0 L1593.0,555.8 L1594.5,556.2 L1596.0,556.3 L1597.5,556.5 L1599.0,556.4 L1600.5,556.2 L1602.0,556.3 L1603.5,555.9 L1605.0,556.1 L1606.5,556.0 L1608.0,555.9 L1609.5,556.0 L1611.0,556.0 L1612.5,556.0 L1614.0,556.0 L1615.5,555.9 L1617.0,555.9 L1618.5,556.0 L1620.0,556.3 L1621.5,556.4 L1623.0,556.3 L1624.5,556.3 L1626.0,556.0 L1627.5,556.2 L1629.0,555.9 L1630.5,555.6 L1632.0,555.7 L1633.5,555.9 L1635.0,555.7 L1636.5,555.8 L1638.0,555.6 L1639.5,555.9 L1641.0,555.6 L1642.5,555.5 L1644.0,555.4 L1645.5,555.5 L1647.0,555.5 L1648.5,555.1 L1650.0,554.7 L1651.5,554.5 L1653.0,553.8 L1654.5,553.4 L1656.0,553.2 L1657.5,552.7 L1659.0,551.6 L1660.5,551.2 L1662.0,550.2 L1663.5,549.8 L1665.0,548.9 L1666.5,548.2 L1668.0,548.2 L1669.5,548.6 L1671.0,548.9 L1672.5,549.7 L1674.0,550.5 L1675.5,551.0 L1677.0,551.7 L1678.5,552.4 L1680.0,553.0 L1681.5,553.5 L1683.0,554.1 L1684.5,554.6 L1686.0,554.8 L1687.5,554.7 L1689.0,554.9 L1690.5,555.1 L1692.0,555.4 L1693.5,555.2 L1695.0,555.2 L1696.5,555.4 L1698.0,555.4 L1699.5,555.3 L1701.0,555.6 L1702.5,556.0 L1704.0,555.9 L1705.5,556.0 L1707.0,556.2 L1708.5,556.2 L1710.0,556.3 L1711.5,556.1 L1713.0,556.1 L1714.5,555.8 L1716.0,556.2 L1717.5,556.0 L1719.0,556.0 L1720.5,556.3 L1722.0,556.0 L1723.5,555.8 L1725.0,556.2 L1726.5,556.2 L1728.0,555.9 L1729.5,555.7 L1731.0,555.8 L1732.5,555.7 L1734.0,556.1 L1735.5,555.9 L1737.0,555.9 L1738.5,555.9 L1740.0,556.0 L1741.5,556.0 L1743.0,556.1 L1744.5,556.2 L1746.0,556.1 L1747.5,555.8 L1749.0,556.3 L1750.5,556.3 L1752.0,555.9 L1753.5,556.0 L1755.0,556.2 L1756.5,556.4 L1758.0,555.9 L1759.5,555.7 L1761.0,555.9 L1762.5,555.9 L1764.0,556.2 L1765.5,556.2 L1767.0,555.9 L1768.5,555.8 L1770.0,555.8 L1771.5,556.0 L1773.0,555.5 L1774.5,555.4 L1776.0,555.0 L1777.5,555.1 L1779.0,554.6 L1780.5,554.8 L1782.0,554.5 L1783.5,554.3 L1785.0,553.9 L1786.5,554.0 L1788.0,554.3 L1789.5,554.8 L1791.0,554.9 L1792.5,555.0 L1794.0,555.5 L1795.5,555.7 L1797.0,555.7 L1798.5,555.6 L1800.0,555.6 L1801.5,556.0 L1803.0,555.7 L1804.5,555.9 L1806.0,556.0 L1807.5,555.9 L1809.0,556.1 L1810.5,556.3 L1812.0,556.4 L1813.5,556.3 L1815.0,556.0 L1816.5,555.8 L1818.0,555.9 L1819.5,555.9 L1821.0,555.8 L1822.5,556.2 L1824.0,555.9 L1825.5,556.2 L1827.0,556.4 L1828.5,556.0 L1830.0,556.3 L1831.5,556.1 L1833.0,555.9 L1834.5,555.8 L1836.0,555.7 L1837.5,555.9 L1839.0,555.9 L1840.5,556.2 L1842.0,556.3 L1843.5,555.9 L1845.0,555.9 L1846.5,555.9 L1848.0,555.8 L1849.5,555.8 L1851.0,555.8 L1852.5,556.0 L1854.0,555.9 L1855.5,555.7 L1857.0,555.7 L1858.5,555.8 L1860.0,555.9 L1861.5,555.8 L1863.0,556.0 L1864.5,555.8 L1866.0,555.9 L1867.5,556.0 L1869.0,555.7 L1870.5,555.9 L1872.0,555.8 L1873.5,555.8 L1875.0,555.9 L1876.5,555.9 L1878.0,555.8 L1879.5,555.5 L1881.0,555.8 L1882.5,555.9 L1884.0,555.7 L1885.5,555.7 L1887.0,555.5 L1888.5,555.7 L1890.0,555.7 L1891.5,555.4 L1893.0,555.6 L1894.5,555.7 L1896.0,555.3 L1897.5,555.6 L1899.0,555.3 L1900.5,554.9 L1902.0,555.1 L1903.5,554.8 L1905.0,554.9 L1906.5,554.8 L1908.0,554.3 L1909.5,554.3 L1911.0,554.4 L1912.5,554.0 L1914.0,553.8 L1915.5,553.7 L1917.0,553.2 L1918.5,552.7 L1920.0,552.3 L1921.5,551.9 L1923.0,550.8 L1924.5,549.7 L1926.0,548.9 L1927.5,547.5 L1929.0,545.7 L1930.5,543.9 L1932.0,541.6 L1933.5,538.6 L1935.0,535.7 L1936.5,532.4 L1938.0,529.5 L1939.5,527.1 L1941.0,526.0 L1942.5,527.1 L1944.0,529.3 L1945.5,532.1 L1947.0,535.3 L1948.5,538.5 L1950.0,541.2 L1951.5,543.8 L1953.0,545.9 L1954.5,547.5 L1956.0,548.6 L1957.5,549.9 L1959.0,550.8 L1960.5,551.7 L1962.0,552.1 L1963.5,552.6 L1965.0,552.9 L1966.5,553.3 L1968.0,553.7 L1969.5,553.7 L1971.0,553.8 L1972.5,554.2 L1974.0,554.3 L1975.5,554.6 L1977.0,554.6 L1978.5,554.6 L1980.0,554.9 L1981.5,555.3 L1983.0,555.5 L1984.5,555.4 L1986.0,555.3 L1987.5,555.1 L1989.0,555.2 L1990.5,555.3 L1992.0,555.7 L1993.5,555.4 L1995.0,555.8 L1996.5,555.7 L1998.0,555.7 L1999.5,555.6 L2001.0,556.0 L2002.5,555.7 L2004.0,555.8 L2005.5,555.8 L2007.0,555.7 L2008.5,555.6 L2010.0,556.1 L2011.5,556.1 L2013.0,556.1 L2014.5,556.3 L2016.0,555.8 L2017.5,556.0 L2019.0,556.1 L2020.5,555.9 L2022.0,555.9 L2023.5,556.3 L2025.0,556.0 L2026.5,556.2 L2028.0,555.9 L2029.5,556.1 L2031.0,555.9 L2032.5,556.0 L2034.0,556.0 L2035.5,556.2 L2037.0,556.3 L2038.5,556.2 L2040.0,556.2 L2041.5,556.1 L2043.0,556.3 L2044.5,556.0 L2046.0,556.1 L2047.5,556.2 L2049.0,556.1 L2050.5,555.8 L2052.0,555.8 L2053.5,556.1 L2055.0,555.9 L2056.5,556.2 L2058.0,556.2 L2059.5,556.4 L2061.0,556.5 L2062.5,556.4 L2064.0,556.2 L2065.5,555.9 L2067.0,556.1 L2068.5,556.3 L2070.0,556.5 L2071.5,556.1 L2073.0,555.9 L2074.5,556.4 L2076.0,556.4 L2077.5,556.3 L2079.0,556.4 L2080.5,556.0 L2082.0,556.2 L2083.5,556.3 L2085.0,556.3 L2086.5,556.0 L2088.0,555.9 L2089.5,556.2 L2091.0,556.4 L2092.5,556.1 L2094.0,555.9 L2095.5,555.8 L2097.0,556.2 L2098.5,556.2 L2100.0,556.2 L2101.5,556.5 L2103.0,556.4 L2104.5,556.1 L2106.0,556.3 L2107.5,556.0 L2109.0,556.0 L2110.5,556.2 L2112.0,556.0 L2113.5,555.9 L2115.0,556.1 L2116.5,556.1 L2118.0,556.5 L2119.5,556.1 L2121.0,556.4 L2122.5,556.2 L2124.0,556.4 L2125.5,556.3 L2127.0,556.4 L2128.5,556.2 L2130.0,556.1 L2131.5,556.1 L2133.0,556.4 L2134.5,556.2 L2136.0,556.1 L2137.5,556.1 L2139.0,556.0 L2140.5,556.0 L2142.0,556.2 L2143.5,556.3 L2145.0,556.3 L2146.5,556.1"/>
<path class="cv" stroke="#0570FA" stroke-width="7.4" d="M84.0,832.5 L85.5,833.0 L87.0,833.1 L88.5,832.7 L90.0,832.7 L91.5,832.7 L93.0,832.9 L94.5,833.1 L96.0,832.5 L97.5,832.3 L99.0,832.9 L100.5,832.7 L102.0,833.0 L103.5,832.4 L105.0,832.6 L106.5,832.9 L108.0,832.6 L109.5,833.0 L111.0,833.2 L112.5,832.5 L114.0,832.2 L115.5,832.6 L117.0,833.0 L118.5,832.7 L120.0,832.5 L121.5,832.5 L123.0,832.2 L124.5,832.2 L126.0,832.4 L127.5,832.6 L129.0,832.4 L130.5,832.3 L132.0,832.2 L133.5,832.4 L135.0,832.3 L136.5,832.1 L138.0,832.6 L139.5,832.6 L141.0,832.7 L142.5,832.3 L144.0,832.8 L145.5,832.9 L147.0,832.3 L148.5,832.2 L150.0,832.5 L151.5,832.5 L153.0,832.7 L154.5,832.4 L156.0,832.5 L157.5,832.4 L159.0,832.0 L160.5,832.0 L162.0,832.2 L163.5,832.2 L165.0,831.8 L166.5,831.6 L168.0,830.9 L169.5,830.6 L171.0,830.7 L172.5,830.1 L174.0,829.3 L175.5,828.9 L177.0,828.4 L178.5,827.7 L180.0,826.5 L181.5,825.4 L183.0,824.4 L184.5,823.5 L186.0,822.2 L187.5,821.0 L189.0,820.0 L190.5,818.9 L192.0,818.4 L193.5,818.8 L195.0,819.9 L196.5,820.9 L198.0,822.1 L199.5,823.5 L201.0,825.2 L202.5,827.2 L204.0,828.4 L205.5,829.3 L207.0,830.3 L208.5,830.5 L210.0,831.0 L211.5,831.7 L213.0,831.8 L214.5,831.9 L216.0,831.8 L217.5,832.0 L219.0,832.5 L220.5,832.0 L222.0,832.4 L223.5,832.7 L225.0,832.8 L226.5,832.8 L228.0,832.9 L229.5,832.7 L231.0,832.6 L232.5,832.5 L234.0,832.2 L235.5,832.7 L237.0,832.7 L238.5,832.4 L240.0,832.5 L241.5,832.6 L243.0,832.5 L244.5,832.5 L246.0,832.6 L247.5,832.8 L249.0,832.8 L250.5,832.7 L252.0,832.3 L253.5,832.3 L255.0,832.3 L256.5,832.6 L258.0,833.0 L259.5,833.1 L261.0,833.1 L262.5,833.2 L264.0,832.7 L265.5,833.0 L267.0,833.0 L268.5,832.5 L270.0,832.2 L271.5,832.1 L273.0,832.7 L274.5,832.5 L276.0,832.3 L277.5,832.7 L279.0,832.6 L280.5,832.3 L282.0,832.3 L283.5,832.6 L285.0,832.4 L286.5,832.4 L288.0,832.8 L289.5,832.7 L291.0,832.6 L292.5,832.7 L294.0,832.3 L295.5,832.5 L297.0,832.6 L298.5,832.4 L300.0,832.3 L301.5,832.9 L303.0,832.8 L304.5,832.6 L306.0,832.8 L307.5,833.0 L309.0,832.5 L310.5,832.2 L312.0,832.3 L313.5,832.7 L315.0,832.5 L316.5,832.8 L318.0,832.9 L319.5,832.9 L321.0,832.6 L322.5,833.1 L324.0,833.1 L325.5,832.9 L327.0,832.6 L328.5,832.8 L330.0,832.7 L331.5,832.8 L333.0,832.6 L334.5,832.8 L336.0,832.4 L337.5,832.4 L339.0,833.0 L340.5,833.2 L342.0,832.7 L343.5,833.0 L345.0,832.7 L346.5,833.1 L348.0,833.1 L349.5,832.8 L351.0,832.5 L352.5,832.2 L354.0,832.8 L355.5,832.4 L357.0,832.8 L358.5,833.1 L360.0,832.9 L361.5,832.5 L363.0,832.9 L364.5,833.2 L366.0,833.0 L367.5,832.8 L369.0,832.6 L370.5,832.5 L372.0,832.3 L373.5,832.6 L375.0,832.5 L376.5,832.3 L378.0,832.1 L379.5,832.5 L381.0,832.3 L382.5,832.4 L384.0,832.2 L385.5,832.6 L387.0,832.8 L388.5,832.0 L390.0,831.8 L391.5,831.8 L393.0,832.3 L394.5,832.2 L396.0,831.6 L397.5,831.1 L399.0,831.0 L400.5,830.6 L402.0,829.8 L403.5,827.9 L405.0,826.1 L406.5,823.5 L408.0,820.6 L409.5,819.3 L411.0,819.2 L412.5,821.5 L414.0,823.8 L415.5,826.1 L417.0,828.5 L418.5,829.5 L420.0,830.7 L421.5,831.2 L423.0,831.8 L424.5,831.7 L426.0,831.7 L427.5,831.8 L429.0,832.3 L430.5,832.3 L432.0,832.7 L433.5,832.8 L435.0,832.2 L436.5,832.4 L438.0,832.1 L439.5,831.9 L441.0,831.9 L442.5,832.6 L444.0,832.8 L445.5,832.9 L447.0,832.5 L448.5,832.6 L450.0,832.8 L451.5,832.6 L453.0,832.6 L454.5,832.4 L456.0,832.1 L457.5,832.2 L459.0,832.7 L460.5,832.7 L462.0,833.0 L463.5,832.7 L465.0,832.4 L466.5,832.8 L468.0,832.9 L469.5,832.3 L471.0,832.6 L472.5,832.2 L474.0,832.1 L475.5,832.7 L477.0,832.2 L478.5,832.2 L480.0,832.8 L481.5,832.6 L483.0,832.2 L484.5,832.1 L486.0,832.2 L487.5,832.6 L489.0,832.2 L490.5,832.7 L492.0,832.5 L493.5,832.9 L495.0,833.0 L496.5,832.5 L498.0,832.3 L499.5,832.3 L501.0,832.0 L502.5,832.4 L504.0,832.0 L505.5,831.7 L507.0,832.4 L508.5,831.9 L510.0,831.9 L511.5,831.6 L513.0,831.1 L514.5,830.5 L516.0,830.8 L517.5,830.9 L519.0,831.1 L520.5,830.6 L522.0,830.7 L523.5,831.3 L525.0,832.0 L526.5,832.0 L528.0,832.2 L529.5,832.3 L531.0,832.1 L532.5,832.2 L534.0,832.1 L535.5,832.0 L537.0,831.8 L538.5,831.9 L540.0,832.5 L541.5,832.3 L543.0,832.4 L544.5,832.4 L546.0,832.7 L547.5,832.3 L549.0,832.1 L550.5,832.0 L552.0,831.9 L553.5,832.4 L555.0,832.6 L556.5,832.1 L558.0,832.0 L559.5,832.1 L561.0,832.1 L562.5,832.2 L564.0,831.9 L565.5,831.5 L567.0,831.6 L568.5,831.4 L570.0,831.7 L571.5,831.5 L573.0,831.3 L574.5,831.7 L576.0,831.6 L577.5,831.9 L579.0,831.7 L580.5,832.0 L582.0,831.4 L583.5,831.5 L585.0,831.7 L586.5,831.1 L588.0,831.6 L589.5,831.1 L591.0,831.3 L592.5,831.6 L594.0,831.5 L595.5,830.9 L597.0,830.5 L598.5,830.5 L600.0,830.8 L601.5,830.3 L603.0,830.5 L604.5,829.9 L606.0,830.2 L607.5,829.4 L609.0,829.2 L610.5,829.5 L612.0,829.3 L613.5,829.2 L615.0,828.9 L616.5,828.4 L618.0,827.9 L619.5,826.9 L621.0,826.2 L622.5,825.3 L624.0,824.7 L625.5,823.8 L627.0,822.2 L628.5,820.5 L630.0,819.7 L631.5,818.2 L633.0,816.6 L634.5,815.2 L636.0,814.5 L637.5,813.8 L639.0,813.7 L640.5,814.2 L642.0,815.0 L643.5,815.7 L645.0,816.9 L646.5,817.6 L648.0,818.2 L649.5,818.2 L651.0,818.4 L652.5,818.1 L654.0,817.8 L655.5,817.4 L657.0,817.3 L658.5,816.1 L660.0,814.7 L661.5,812.8 L663.0,809.7 L664.5,805.5 L666.0,801.0 L667.5,794.9 L669.0,787.4 L670.5,778.0 L672.0,767.3 L673.5,755.3 L675.0,742.6 L676.5,730.9 L678.0,721.1 L679.5,714.4 L681.0,712.4 L682.5,716.0 L684.0,725.4 L685.5,738.4 L687.0,752.8 L688.5,768.1 L690.0,781.8 L691.5,793.9 L693.0,804.3 L694.5,812.5 L696.0,817.9 L697.5,822.3 L699.0,825.3 L700.5,826.8 L702.0,828.2 L703.5,829.2 L705.0,829.5 L706.5,830.0 L708.0,830.4 L709.5,830.6 L711.0,831.0 L712.5,831.3 L714.0,831.6 L715.5,831.4 L717.0,831.1 L718.5,831.1 L720.0,831.2 L721.5,831.5 L723.0,831.9 L724.5,831.5 L726.0,831.9 L727.5,832.1 L729.0,831.9 L730.5,832.0 L732.0,831.8 L733.5,832.2 L735.0,831.8 L736.5,832.4 L738.0,832.6 L739.5,832.5 L741.0,832.2 L742.5,832.6 L744.0,832.8 L745.5,832.2 L747.0,832.6 L748.5,832.8 L750.0,832.7 L751.5,832.7 L753.0,832.5 L754.5,832.8 L756.0,833.0 L757.5,832.6 L759.0,832.8 L760.5,832.6 L762.0,832.3 L763.5,832.3 L765.0,832.1 L766.5,832.7 L768.0,833.0 L769.5,832.4 L771.0,832.6 L772.5,832.5 L774.0,832.3 L775.5,832.3 L777.0,832.3 L778.5,832.7 L780.0,832.3 L781.5,832.2 L783.0,832.4 L784.5,832.2 L786.0,832.6 L787.5,832.7 L789.0,833.0 L790.5,832.6 L792.0,832.5 L793.5,832.6 L795.0,832.5 L796.5,832.7 L798.0,832.5 L799.5,832.8 L801.0,833.0 L802.5,833.1 L804.0,833.3 L805.5,833.0 L807.0,832.8 L808.5,833.1 L810.0,833.1 L811.5,832.9 L813.0,832.7 L814.5,832.6 L816.0,832.3 L817.5,832.8 L819.0,832.5 L820.5,832.8 L822.0,832.8 L823.5,833.2 L825.0,833.1 L826.5,833.3 L828.0,832.7 L829.5,832.7 L831.0,832.8 L832.5,832.6 L834.0,832.7 L835.5,832.6 L837.0,832.7 L838.5,832.3 L840.0,832.6 L841.5,832.6 L843.0,832.6 L844.5,832.6 L846.0,833.0 L847.5,833.0 L849.0,832.9 L850.5,832.9 L852.0,832.7 L853.5,832.5 L855.0,832.3 L856.5,832.4 L858.0,832.7 L859.5,833.1 L861.0,833.2 L862.5,833.0 L864.0,833.3 L865.5,833.0 L867.0,833.1 L868.5,832.9 L870.0,833.0 L871.5,833.3 L873.0,832.8 L874.5,832.5 L876.0,832.8 L877.5,832.8 L879.0,832.7 L880.5,832.3 L882.0,832.5 L883.5,832.6 L885.0,832.7 L886.5,833.0 L888.0,833.0 L889.5,833.1 L891.0,833.2 L892.5,833.2 L894.0,832.9 L895.5,833.1 L897.0,833.0 L898.5,833.0 L900.0,833.0 L901.5,832.8 L903.0,832.9 L904.5,832.9 L906.0,833.2 L907.5,833.2 L909.0,833.2 L910.5,833.2 L912.0,833.2 L913.5,833.0 L915.0,832.8 L916.5,832.6 L918.0,832.9 L919.5,833.1 L921.0,832.9 L922.5,832.5 L924.0,832.9 L925.5,832.8 L927.0,832.7 L928.5,832.4 L930.0,832.6 L931.5,832.9 L933.0,832.7 L934.5,832.6 L936.0,832.8 L937.5,832.3 L939.0,832.5 L940.5,832.9 L942.0,832.9 L943.5,832.6 L945.0,832.6 L946.5,832.5 L948.0,832.0 L949.5,831.5 L951.0,831.5 L952.5,830.5 L954.0,829.3 L955.5,828.8 L957.0,828.0 L958.5,827.7 L960.0,827.9 L961.5,828.3 L963.0,828.2 L964.5,828.8 L966.0,829.4 L967.5,830.0 L969.0,829.9 L970.5,830.4 L972.0,830.5 L973.5,831.0 L975.0,831.0 L976.5,831.6 L978.0,832.1 L979.5,831.9 L981.0,831.8 L982.5,832.4 L984.0,832.5 L985.5,832.7 L987.0,832.1 L988.5,832.6 L990.0,832.6 L991.5,832.3 L993.0,832.3 L994.5,832.6 L996.0,832.7 L997.5,832.3 L999.0,832.5 L1000.5,832.2 L1002.0,832.7 L1003.5,832.5 L1005.0,832.8 L1006.5,832.8 L1008.0,832.6 L1009.5,832.3 L1011.0,832.4 L1012.5,832.1 L1014.0,831.9 L1015.5,832.3 L1017.0,832.2 L1018.5,832.4 L1020.0,832.1 L1021.5,832.3 L1023.0,832.4 L1024.5,832.0 L1026.0,831.6 L1027.5,831.7 L1029.0,831.7 L1030.5,831.2 L1032.0,831.0 L1033.5,830.6 L1035.0,830.6 L1036.5,830.6 L1038.0,829.7 L1039.5,828.8 L1041.0,828.5 L1042.5,827.9 L1044.0,827.1 L1045.5,825.9 L1047.0,824.4 L1048.5,823.5 L1050.0,821.8 L1051.5,821.0 L1053.0,819.5 L1054.5,818.8 L1056.0,818.4 L1057.5,818.2 L1059.0,818.3 L1060.5,819.0 L1062.0,820.6 L1063.5,821.8 L1065.0,823.3 L1066.5,824.5 L1068.0,826.1 L1069.5,827.2 L1071.0,828.4 L1072.5,829.6 L1074.0,830.5 L1075.5,830.4 L1077.0,831.2 L1078.5,831.7 L1080.0,831.6 L1081.5,831.7 L1083.0,832.0 L1084.5,832.5 L1086.0,832.2 L1087.5,832.6 L1089.0,832.7 L1090.5,832.2 L1092.0,832.7 L1093.5,832.1 L1095.0,832.0 L1096.5,832.5 L1098.0,832.1 L1099.5,832.3 L1101.0,832.1 L1102.5,832.4 L1104.0,832.8 L1105.5,833.0 L1107.0,832.4 L1108.5,832.2 L1110.0,832.7 L1111.5,832.3 L1113.0,832.3 L1114.5,832.2 L1116.0,832.1 L1117.5,832.1 L1119.0,832.6 L1120.5,832.8 L1122.0,832.9 L1123.5,833.1 L1125.0,833.0 L1126.5,832.7 L1128.0,832.8 L1129.5,833.2 L1131.0,833.0 L1132.5,832.6 L1134.0,832.3 L1135.5,832.9 L1137.0,832.9 L1138.5,832.7 L1140.0,832.8 L1141.5,832.8 L1143.0,832.8 L1144.5,832.4 L1146.0,832.4 L1147.5,832.5 L1149.0,832.4 L1150.5,832.9 L1152.0,832.7 L1153.5,832.8 L1155.0,832.9 L1156.5,833.0 L1158.0,832.9 L1159.5,833.0 L1161.0,832.5 L1162.5,833.0 L1164.0,832.4 L1165.5,832.8 L1167.0,832.9 L1168.5,832.9 L1170.0,832.2 L1171.5,831.9 L1173.0,832.4 L1174.5,832.2 L1176.0,832.0 L1177.5,832.3 L1179.0,831.5 L1180.5,831.3 L1182.0,830.9 L1183.5,829.9 L1185.0,828.9 L1186.5,827.6 L1188.0,825.8 L1189.5,822.8 L1191.0,821.2 L1192.5,820.6 L1194.0,822.5 L1195.5,824.3 L1197.0,826.3 L1198.5,828.3 L1200.0,830.0 L1201.5,830.6 L1203.0,830.9 L1204.5,831.8 L1206.0,832.2 L1207.5,832.5 L1209.0,832.2 L1210.5,832.2 L1212.0,832.1 L1213.5,832.4 L1215.0,832.3 L1216.5,832.3 L1218.0,832.7 L1219.5,833.0 L1221.0,832.9 L1222.5,832.4 L1224.0,832.7 L1225.5,832.7 L1227.0,833.1 L1228.5,833.1 L1230.0,833.1 L1231.5,833.1 L1233.0,832.9 L1234.5,833.2 L1236.0,833.2 L1237.5,832.8 L1239.0,832.5 L1240.5,832.6 L1242.0,832.7 L1243.5,832.4 L1245.0,832.5 L1246.5,832.8 L1248.0,832.4 L1249.5,832.9 L1251.0,833.0 L1252.5,832.7 L1254.0,832.6 L1255.5,832.6 L1257.0,832.6 L1258.5,832.9 L1260.0,832.9 L1261.5,832.9 L1263.0,832.6 L1264.5,833.1 L1266.0,832.8 L1267.5,832.7 L1269.0,832.4 L1270.5,833.1 L1272.0,832.9 L1273.5,833.2 L1275.0,833.4 L1276.5,833.4 L1278.0,833.4 L1279.5,833.4 L1281.0,833.4 L1282.5,833.3 L1284.0,832.7 L1285.5,832.8 L1287.0,832.9 L1288.5,833.3 L1290.0,833.3 L1291.5,833.2 L1293.0,833.2 L1294.5,832.9 L1296.0,833.2 L1297.5,833.1 L1299.0,832.9 L1300.5,832.8 L1302.0,833.3 L1303.5,833.1 L1305.0,832.7 L1306.5,832.5 L1308.0,832.9 L1309.5,832.9 L1311.0,833.2 L1312.5,832.8 L1314.0,832.7 L1315.5,833.0 L1317.0,832.6 L1318.5,832.4 L1320.0,832.7 L1321.5,832.6 L1323.0,832.4 L1324.5,832.5 L1326.0,832.8 L1327.5,832.7 L1329.0,832.2 L1330.5,831.9 L1332.0,832.3 L1333.5,832.2 L1335.0,831.7 L1336.5,832.0 L1338.0,831.3 L1339.5,831.2 L1341.0,831.2 L1342.5,830.8 L1344.0,829.9 L1345.5,829.7 L1347.0,829.1 L1348.5,828.8 L1350.0,828.4 L1351.5,827.7 L1353.0,827.4 L1354.5,827.0 L1356.0,827.0 L1357.5,826.9 L1359.0,826.8 L1360.5,826.8 L1362.0,826.9 L1363.5,826.2 L1365.0,825.9 L1366.5,825.9 L1368.0,825.1 L1369.5,824.0 L1371.0,820.9 L1372.5,817.8 L1374.0,816.3 L1375.5,815.0 L1377.0,815.3 L1378.5,815.3 L1380.0,816.8 L1381.5,817.4 L1383.0,817.3 L1384.5,817.5 L1386.0,817.8 L1387.5,817.2 L1389.0,817.0 L1390.5,817.0 L1392.0,817.8 L1393.5,818.8 L1395.0,820.8 L1396.5,822.6 L1398.0,824.5 L1399.5,826.0 L1401.0,827.4 L1402.5,828.7 L1404.0,829.8 L1405.5,830.8 L1407.0,831.2 L1408.5,831.5 L1410.0,831.5 L1411.5,831.7 L1413.0,832.1 L1414.5,832.5 L1416.0,832.6 L1417.5,833.1 L1419.0,832.7 L1420.5,833.0 L1422.0,833.3 L1423.5,833.3 L1425.0,833.1 L1426.5,832.9 L1428.0,832.8 L1429.5,833.2 L1431.0,833.3 L1432.5,833.2 L1434.0,833.3 L1435.5,833.4 L1437.0,833.4 L1438.5,833.0 L1440.0,832.9 L1441.5,833.1 L1443.0,832.9 L1444.5,833.1 L1446.0,832.9 L1447.5,832.8 L1449.0,832.8 L1450.5,832.5 L1452.0,832.6 L1453.5,832.7 L1455.0,832.4 L1456.5,832.4 L1458.0,832.5 L1459.5,833.0 L1461.0,833.0 L1462.5,832.8 L1464.0,833.2 L1465.5,832.8 L1467.0,832.9 L1468.5,833.1 L1470.0,833.1 L1471.5,832.9 L1473.0,833.1 L1474.5,833.0 L1476.0,833.1 L1477.5,833.0 L1479.0,833.3 L1480.5,833.2 L1482.0,832.7 L1483.5,832.5 L1485.0,833.1 L1486.5,832.7 L1488.0,832.4 L1489.5,832.5 L1491.0,832.7 L1492.5,833.2 L1494.0,832.9 L1495.5,833.1 L1497.0,833.2 L1498.5,832.7 L1500.0,832.9 L1501.5,833.3 L1503.0,833.1 L1504.5,833.0 L1506.0,832.8 L1507.5,833.2 L1509.0,833.4 L1510.5,832.8 L1512.0,832.9 L1513.5,832.8 L1515.0,833.0 L1516.5,832.6 L1518.0,832.6 L1519.5,832.6 L1521.0,832.7 L1522.5,833.1 L1524.0,833.2 L1525.5,833.3 L1527.0,833.2 L1528.5,832.6 L1530.0,832.7 L1531.5,832.9 L1533.0,832.7 L1534.5,832.8 L1536.0,833.2 L1537.5,832.7 L1539.0,833.1 L1540.5,832.6 L1542.0,832.7 L1543.5,833.1 L1545.0,832.7 L1546.5,832.8 L1548.0,832.7 L1549.5,833.1 L1551.0,833.4 L1552.5,832.9 L1554.0,832.8 L1555.5,833.1 L1557.0,833.0 L1558.5,832.6 L1560.0,832.9 L1561.5,832.7 L1563.0,832.7 L1564.5,832.3 L1566.0,833.0 L1567.5,833.0 L1569.0,833.2 L1570.5,833.3 L1572.0,832.7 L1573.5,832.7 L1575.0,832.6 L1576.5,832.8 L1578.0,832.9 L1579.5,832.3 L1581.0,832.0 L1582.5,832.1 L1584.0,831.7 L1585.5,831.0 L1587.0,830.5 L1588.5,830.2 L1590.0,829.8 L1591.5,829.7 L1593.0,829.1 L1594.5,829.0 L1596.0,828.8 L1597.5,829.2 L1599.0,829.5 L1600.5,830.2 L1602.0,830.4 L1603.5,830.7 L1605.0,831.1 L1606.5,831.5 L1608.0,831.7 L1609.5,832.1 L1611.0,832.0 L1612.5,832.6 L1614.0,832.7 L1615.5,832.6 L1617.0,832.2 L1618.5,832.3 L1620.0,832.6 L1621.5,832.7 L1623.0,832.9 L1624.5,833.1 L1626.0,832.7 L1627.5,832.6 L1629.0,832.5 L1630.5,832.3 L1632.0,832.2 L1633.5,832.3 L1635.0,832.1 L1636.5,832.5 L1638.0,832.7 L1639.5,832.7 L1641.0,832.8 L1642.5,832.4 L1644.0,832.2 L1645.5,832.4 L1647.0,832.7 L1648.5,832.4 L1650.0,831.9 L1651.5,831.6 L1653.0,831.5 L1654.5,831.6 L1656.0,831.0 L1657.5,830.6 L1659.0,830.6 L1660.5,830.5 L1662.0,829.6 L1663.5,829.3 L1665.0,828.9 L1666.5,828.3 L1668.0,828.4 L1669.5,828.4 L1671.0,828.6 L1672.5,829.1 L1674.0,829.2 L1675.5,828.7 L1677.0,828.3 L1678.5,828.6 L1680.0,828.1 L1681.5,828.1 L1683.0,828.2 L1684.5,828.4 L1686.0,828.7 L1687.5,829.3 L1689.0,830.1 L1690.5,831.1 L1692.0,831.5 L1693.5,831.5 L1695.0,832.0 L1696.5,831.9 L1698.0,832.2 L1699.5,832.2 L1701.0,832.8 L1702.5,832.5 L1704.0,832.8 L1705.5,832.8 L1707.0,833.0 L1708.5,832.9 L1710.0,833.1 L1711.5,832.8 L1713.0,832.9 L1714.5,832.9 L1716.0,832.8 L1717.5,832.8 L1719.0,832.8 L1720.5,832.7 L1722.0,833.1 L1723.5,833.0 L1725.0,832.9 L1726.5,832.5 L1728.0,832.7 L1729.5,832.5 L1731.0,832.4 L1732.5,832.6 L1734.0,832.8 L1735.5,832.6 L1737.0,832.5 L1738.5,832.7 L1740.0,832.8 L1741.5,832.7 L1743.0,832.4 L1744.5,832.6 L1746.0,832.8 L1747.5,832.9 L1749.0,832.9 L1750.5,833.1 L1752.0,833.1 L1753.5,833.1 L1755.0,832.5 L1756.5,832.5 L1758.0,832.8 L1759.5,832.5 L1761.0,833.0 L1762.5,832.6 L1764.0,833.0 L1765.5,832.6 L1767.0,833.0 L1768.5,833.1 L1770.0,832.7 L1771.5,832.9 L1773.0,832.3 L1774.5,832.5 L1776.0,832.0 L1777.5,831.5 L1779.0,830.6 L1780.5,830.3 L1782.0,829.7 L1783.5,829.9 L1785.0,830.5 L1786.5,831.0 L1788.0,831.0 L1789.5,832.1 L1791.0,832.6 L1792.5,832.7 L1794.0,832.6 L1795.5,832.7 L1797.0,833.0 L1798.5,832.8 L1800.0,833.0 L1801.5,832.9 L1803.0,832.8 L1804.5,833.1 L1806.0,832.8 L1807.5,832.9 L1809.0,832.4 L1810.5,832.6 L1812.0,832.3 L1813.5,832.8 L1815.0,832.3 L1816.5,832.2 L1818.0,832.2 L1819.5,832.2 L1821.0,832.5 L1822.5,832.4 L1824.0,832.3 L1825.5,832.7 L1827.0,832.7 L1828.5,832.3 L1830.0,832.0 L1831.5,831.8 L1833.0,831.0 L1834.5,831.1 L1836.0,830.8 L1837.5,831.1 L1839.0,831.3 L1840.5,831.4 L1842.0,832.2 L1843.5,832.7 L1845.0,832.5 L1846.5,832.9 L1848.0,832.7 L1849.5,832.8 L1851.0,833.2 L1852.5,833.2 L1854.0,832.6 L1855.5,832.7 L1857.0,832.7 L1858.5,832.6 L1860.0,833.0 L1861.5,832.9 L1863.0,833.0 L1864.5,833.0 L1866.0,832.9 L1867.5,832.5 L1869.0,832.9 L1870.5,833.2 L1872.0,832.7 L1873.5,832.9 L1875.0,832.9 L1876.5,832.7 L1878.0,833.0 L1879.5,833.3 L1881.0,832.6 L1882.5,833.0 L1884.0,832.7 L1885.5,832.9 L1887.0,832.4 L1888.5,832.7 L1890.0,832.2 L1891.5,832.2 L1893.0,832.7 L1894.5,832.5 L1896.0,832.5 L1897.5,832.1 L1899.0,831.9 L1900.5,831.7 L1902.0,831.8 L1903.5,831.6 L1905.0,831.1 L1906.5,830.9 L1908.0,830.9 L1909.5,830.8 L1911.0,830.9 L1912.5,830.8 L1914.0,830.1 L1915.5,829.8 L1917.0,829.2 L1918.5,828.8 L1920.0,828.5 L1921.5,828.3 L1923.0,828.4 L1924.5,828.0 L1926.0,827.6 L1927.5,826.7 L1929.0,826.0 L1930.5,825.5 L1932.0,824.5 L1933.5,823.3 L1935.0,820.8 L1936.5,819.0 L1938.0,817.4 L1939.5,815.7 L1941.0,814.0 L1942.5,813.0 L1944.0,812.3 L1945.5,812.1 L1947.0,812.8 L1948.5,813.4 L1950.0,813.8 L1951.5,813.7 L1953.0,813.1 L1954.5,812.6 L1956.0,812.7 L1957.5,812.8 L1959.0,813.5 L1960.5,813.8 L1962.0,816.1 L1963.5,818.2 L1965.0,820.3 L1966.5,822.9 L1968.0,825.3 L1969.5,826.9 L1971.0,828.5 L1972.5,829.8 L1974.0,830.6 L1975.5,831.3 L1977.0,831.4 L1978.5,832.0 L1980.0,831.9 L1981.5,832.4 L1983.0,832.5 L1984.5,832.7 L1986.0,832.9 L1987.5,832.9 L1989.0,833.3 L1990.5,832.8 L1992.0,832.5 L1993.5,833.1 L1995.0,832.8 L1996.5,832.7 L1998.0,832.7 L1999.5,832.9 L2001.0,833.3 L2002.5,833.2 L2004.0,832.9 L2005.5,832.9 L2007.0,832.9 L2008.5,832.9 L2010.0,832.8 L2011.5,832.6 L2013.0,832.7 L2014.5,832.7 L2016.0,832.6 L2017.5,833.0 L2019.0,832.8 L2020.5,832.6 L2022.0,832.8 L2023.5,833.1 L2025.0,833.2 L2026.5,833.1 L2028.0,833.2 L2029.5,832.9 L2031.0,832.6 L2032.5,832.6 L2034.0,832.6 L2035.5,832.6 L2037.0,832.7 L2038.5,832.5 L2040.0,832.4 L2041.5,832.5 L2043.0,832.5 L2044.5,833.0 L2046.0,832.9 L2047.5,832.7 L2049.0,832.7 L2050.5,833.1 L2052.0,833.0 L2053.5,833.0 L2055.0,832.8 L2056.5,832.6 L2058.0,832.9 L2059.5,832.5 L2061.0,833.0 L2062.5,832.5 L2064.0,832.9 L2065.5,832.8 L2067.0,833.0 L2068.5,833.0 L2070.0,832.6 L2071.5,832.8 L2073.0,832.5 L2074.5,832.5 L2076.0,832.6 L2077.5,832.6 L2079.0,832.9 L2080.5,833.3 L2082.0,832.9 L2083.5,833.2 L2085.0,832.7 L2086.5,833.0 L2088.0,832.8 L2089.5,832.8 L2091.0,832.5 L2092.5,833.0 L2094.0,832.6 L2095.5,832.7 L2097.0,832.6 L2098.5,833.0 L2100.0,832.9 L2101.5,832.9 L2103.0,833.0 L2104.5,832.7 L2106.0,832.3 L2107.5,832.8 L2109.0,832.6 L2110.5,832.8 L2112.0,833.0 L2113.5,832.8 L2115.0,832.1 L2116.5,832.4 L2118.0,832.2 L2119.5,831.6 L2121.0,831.1 L2122.5,830.9 L2124.0,830.3 L2125.5,830.5 L2127.0,830.3 L2128.5,830.3 L2130.0,830.0 L2131.5,830.5 L2133.0,830.3 L2134.5,830.9 L2136.0,831.0 L2137.5,831.0 L2139.0,831.3 L2140.5,831.6 L2142.0,832.3 L2143.5,832.3 L2145.0,832.5 L2146.5,832.7"/>
<path class="cv" stroke="#FF0000" stroke-width="7.7" d="M84.0,1108.9 L85.5,1108.9 L87.0,1108.7 L88.5,1108.5 L90.0,1108.6 L91.5,1108.5 L93.0,1108.8 L94.5,1108.5 L96.0,1108.6 L97.5,1108.7 L99.0,1108.9 L100.5,1108.7 L102.0,1108.5 L103.5,1108.8 L105.0,1108.8 L106.5,1108.5 L108.0,1108.9 L109.5,1109.1 L111.0,1109.0 L112.5,1109.1 L114.0,1108.6 L115.5,1108.8 L117.0,1109.0 L118.5,1108.9 L120.0,1108.7 L121.5,1108.3 L123.0,1108.4 L124.5,1108.6 L126.0,1108.9 L127.5,1109.0 L129.0,1108.7 L130.5,1108.9 L132.0,1108.5 L133.5,1108.7 L135.0,1108.6 L136.5,1108.1 L138.0,1108.5 L139.5,1108.4 L141.0,1108.7 L142.5,1108.6 L144.0,1108.1 L145.5,1108.3 L147.0,1108.6 L148.5,1108.2 L150.0,1108.1 L151.5,1108.5 L153.0,1108.1 L154.5,1108.2 L156.0,1108.0 L157.5,1108.4 L159.0,1108.5 L160.5,1108.2 L162.0,1107.7 L163.5,1107.7 L165.0,1107.8 L166.5,1108.1 L168.0,1107.5 L169.5,1107.5 L171.0,1107.5 L172.5,1107.2 L174.0,1107.1 L175.5,1106.5 L177.0,1106.2 L178.5,1105.2 L180.0,1104.1 L181.5,1102.5 L183.0,1100.7 L184.5,1098.4 L186.0,1096.0 L187.5,1093.1 L189.0,1090.3 L190.5,1088.0 L192.0,1086.9 L193.5,1087.0 L195.0,1090.3 L196.5,1095.1 L198.0,1100.1 L199.5,1103.7 L201.0,1105.9 L202.5,1107.0 L204.0,1107.7 L205.5,1108.1 L207.0,1108.0 L208.5,1107.9 L210.0,1108.2 L211.5,1108.0 L213.0,1108.4 L214.5,1108.6 L216.0,1108.8 L217.5,1108.6 L219.0,1108.8 L220.5,1108.7 L222.0,1108.5 L223.5,1108.6 L225.0,1108.9 L226.5,1109.0 L228.0,1108.9 L229.5,1108.4 L231.0,1108.6 L232.5,1108.5 L234.0,1108.6 L235.5,1108.9 L237.0,1108.5 L238.5,1108.7 L240.0,1108.3 L241.5,1108.2 L243.0,1108.7 L244.5,1108.5 L246.0,1108.8 L247.5,1108.3 L249.0,1108.2 L250.5,1108.6 L252.0,1108.2 L253.5,1108.5 L255.0,1108.8 L256.5,1108.7 L258.0,1108.7 L259.5,1108.2 L261.0,1108.5 L262.5,1108.6 L264.0,1108.6 L265.5,1108.4 L267.0,1108.3 L268.5,1108.7 L270.0,1108.1 L271.5,1107.8 L273.0,1108.4 L274.5,1108.0 L276.0,1107.7 L277.5,1107.5 L279.0,1107.9 L280.5,1108.1 L282.0,1107.3 L283.5,1107.3 L285.0,1107.1 L286.5,1107.1 L288.0,1107.1 L289.5,1107.5 L291.0,1107.5 L292.5,1107.5 L294.0,1107.8 L295.5,1107.6 L297.0,1107.6 L298.5,1108.4 L300.0,1108.1 L301.5,1108.2 L303.0,1108.5 L304.5,1108.7 L306.0,1108.9 L307.5,1108.4 L309.0,1108.6 L310.5,1108.9 L312.0,1108.4 L313.5,1108.6 L315.0,1108.8 L316.5,1108.5 L318.0,1108.4 L319.5,1108.6 L321.0,1108.5 L322.5,1108.3 L324.0,1108.4 L325.5,1108.4 L327.0,1108.6 L328.5,1108.6 L330.0,1108.4 L331.5,1108.4 L333.0,1108.8 L334.5,1108.4 L336.0,1108.6 L337.5,1108.2 L339.0,1108.6 L340.5,1108.4 L342.0,1108.1 L343.5,1108.2 L345.0,1108.2 L346.5,1108.7 L348.0,1108.5 L349.5,1108.3 L351.0,1108.3 L352.5,1108.8 L354.0,1108.7 L355.5,1108.6 L357.0,1108.6 L358.5,1108.3 L360.0,1108.0 L361.5,1107.8 L363.0,1107.0 L364.5,1106.5 L366.0,1106.4 L367.5,1106.6 L369.0,1107.3 L370.5,1107.6 L372.0,1108.2 L373.5,1108.3 L375.0,1108.2 L376.5,1108.2 L378.0,1108.4 L379.5,1108.3 L381.0,1108.4 L382.5,1107.9 L384.0,1108.1 L385.5,1107.9 L387.0,1107.8 L388.5,1108.0 L390.0,1107.9 L391.5,1107.9 L393.0,1108.0 L394.5,1108.0 L396.0,1107.6 L397.5,1107.2 L399.0,1106.8 L400.5,1106.5 L402.0,1105.5 L403.5,1103.3 L405.0,1098.6 L406.5,1092.1 L408.0,1082.6 L409.5,1072.3 L411.0,1066.9 L412.5,1069.8 L414.0,1078.3 L415.5,1088.4 L417.0,1096.2 L418.5,1101.3 L420.0,1104.5 L421.5,1105.6 L423.0,1106.8 L424.5,1107.2 L426.0,1107.1 L427.5,1107.2 L429.0,1107.7 L430.5,1108.1 L432.0,1107.9 L433.5,1108.4 L435.0,1107.9 L436.5,1108.4 L438.0,1108.2 L439.5,1107.9 L441.0,1108.0 L442.5,1108.2 L444.0,1108.5 L445.5,1108.7 L447.0,1108.2 L448.5,1108.3 L450.0,1108.5 L451.5,1108.3 L453.0,1108.7 L454.5,1108.4 L456.0,1108.0 L457.5,1107.9 L459.0,1108.4 L460.5,1108.5 L462.0,1108.8 L463.5,1109.0 L465.0,1109.0 L466.5,1108.3 L468.0,1108.6 L469.5,1108.7 L471.0,1108.7 L472.5,1108.7 L474.0,1108.9 L475.5,1108.8 L477.0,1108.5 L478.5,1108.5 L480.0,1108.3 L481.5,1108.5 L483.0,1108.1 L484.5,1108.1 L486.0,1108.2 L487.5,1108.6 L489.0,1108.7 L490.5,1108.4 L492.0,1108.5 L493.5,1108.1 L495.0,1108.1 L496.5,1108.7 L498.0,1108.3 L499.5,1108.3 L501.0,1108.4 L502.5,1108.2 L504.0,1108.3 L505.5,1108.1 L507.0,1107.8 L508.5,1107.7 L510.0,1107.8 L511.5,1107.3 L513.0,1107.1 L514.5,1106.6 L516.0,1106.0 L517.5,1105.3 L519.0,1105.6 L520.5,1105.7 L522.0,1106.5 L523.5,1107.3 L525.0,1107.4 L526.5,1107.7 L528.0,1108.1 L529.5,1108.1 L531.0,1108.0 L532.5,1108.4 L534.0,1108.6 L535.5,1108.8 L537.0,1108.6 L538.5,1108.3 L540.0,1108.7 L541.5,1108.6 L543.0,1108.1 L544.5,1107.9 L546.0,1108.4 L547.5,1108.0 L549.0,1107.8 L550.5,1108.0 L552.0,1108.2 L553.5,1108.2 L555.0,1108.3 L556.5,1108.4 L558.0,1108.5 L559.5,1108.3 L561.0,1108.2 L562.5,1108.6 L564.0,1108.2 L565.5,1108.4 L567.0,1108.3 L568.5,1108.1 L570.0,1107.8 L571.5,1108.3 L573.0,1108.4 L574.5,1108.6 L576.0,1108.3 L577.5,1108.3 L579.0,1107.9 L580.5,1107.9 L582.0,1107.8 L583.5,1107.6 L585.0,1108.2 L586.5,1107.9 L588.0,1107.6 L589.5,1107.6 L591.0,1107.7 L592.5,1107.8 L594.0,1107.6 L595.5,1108.1 L597.0,1108.2 L598.5,1107.6 L600.0,1107.6 L601.5,1107.7 L603.0,1107.9 L604.5,1107.6 L606.0,1107.8 L607.5,1107.3 L609.0,1107.2 L610.5,1107.1 L612.0,1107.1 L613.5,1106.6 L615.0,1106.7 L616.5,1106.2 L618.0,1106.0 L619.5,1106.2 L621.0,1106.0 L622.5,1105.5 L624.0,1104.2 L625.5,1103.3 L627.0,1102.3 L628.5,1101.4 L630.0,1100.2 L631.5,1098.5 L633.0,1096.8 L634.5,1095.3 L636.0,1093.3 L637.5,1092.3 L639.0,1092.6 L640.5,1092.7 L642.0,1093.5 L643.5,1094.4 L645.0,1095.4 L646.5,1097.0 L648.0,1097.6 L649.5,1097.9 L651.0,1098.1 L652.5,1098.5 L654.0,1098.6 L655.5,1097.9 L657.0,1097.2 L658.5,1095.6 L660.0,1093.2 L661.5,1089.5 L663.0,1083.8 L664.5,1075.1 L666.0,1063.0 L667.5,1046.3 L669.0,1025.8 L670.5,1001.5 L672.0,976.4 L673.5,952.8 L675.0,934.4 L676.5,924.2 L678.0,925.3 L679.5,936.9 L681.0,957.0 L682.5,982.0 L684.0,1007.9 L685.5,1031.9 L687.0,1052.1 L688.5,1068.6 L690.0,1081.1 L691.5,1089.7 L693.0,1095.3 L694.5,1099.5 L696.0,1102.1 L697.5,1103.2 L699.0,1104.1 L700.5,1105.0 L702.0,1105.0 L703.5,1105.7 L705.0,1105.7 L706.5,1105.9 L708.0,1106.6 L709.5,1106.3 L711.0,1106.3 L712.5,1106.7 L714.0,1107.0 L715.5,1107.4 L717.0,1107.5 L718.5,1107.6 L720.0,1107.3 L721.5,1107.8 L723.0,1107.7 L724.5,1107.8 L726.0,1107.7 L727.5,1107.4 L729.0,1107.7 L730.5,1107.5 L732.0,1107.4 L733.5,1107.8 L735.0,1108.0 L736.5,1107.7 L738.0,1108.0 L739.5,1107.9 L741.0,1108.0 L742.5,1108.3 L744.0,1108.2 L745.5,1108.5 L747.0,1108.4 L748.5,1108.3 L750.0,1108.4 L751.5,1108.2 L753.0,1107.9 L754.5,1108.3 L756.0,1108.4 L757.5,1108.6 L759.0,1108.1 L760.5,1108.6 L762.0,1108.7 L763.5,1108.8 L765.0,1108.8 L766.5,1108.7 L768.0,1108.8 L769.5,1108.6 L771.0,1108.7 L772.5,1108.3 L774.0,1108.6 L775.5,1108.5 L777.0,1108.6 L778.5,1108.5 L780.0,1108.7 L781.5,1108.2 L783.0,1108.0 L784.5,1108.6 L786.0,1108.5 L787.5,1108.8 L789.0,1109.0 L790.5,1108.8 L792.0,1108.7 L793.5,1108.3 L795.0,1108.1 L796.5,1108.6 L798.0,1108.8 L799.5,1108.9 L801.0,1108.8 L802.5,1108.6 L804.0,1108.4 L805.5,1108.2 L807.0,1108.3 L808.5,1108.5 L810.0,1108.8 L811.5,1109.0 L813.0,1108.7 L814.5,1108.3 L816.0,1108.6 L817.5,1108.8 L819.0,1108.3 L820.5,1108.4 L822.0,1108.6 L823.5,1108.2 L825.0,1108.7 L826.5,1109.0 L828.0,1108.9 L829.5,1108.4 L831.0,1108.1 L832.5,1108.3 L834.0,1108.1 L835.5,1108.3 L837.0,1108.1 L838.5,1108.7 L840.0,1108.9 L841.5,1108.4 L843.0,1108.8 L844.5,1108.4 L846.0,1108.3 L847.5,1108.6 L849.0,1108.9 L850.5,1108.4 L852.0,1108.1 L853.5,1108.3 L855.0,1108.1 L856.5,1108.5 L858.0,1108.8 L859.5,1108.4 L861.0,1108.2 L862.5,1108.3 L864.0,1108.8 L865.5,1108.4 L867.0,1108.9 L868.5,1108.6 L870.0,1108.6 L871.5,1108.4 L873.0,1108.8 L874.5,1109.0 L876.0,1108.9 L877.5,1108.4 L879.0,1108.9 L880.5,1108.4 L882.0,1108.6 L883.5,1108.3 L885.0,1108.8 L886.5,1109.0 L888.0,1109.0 L889.5,1108.6 L891.0,1108.4 L892.5,1108.7 L894.0,1108.4 L895.5,1108.4 L897.0,1108.1 L898.5,1108.1 L900.0,1108.0 L901.5,1108.0 L903.0,1108.0 L904.5,1108.2 L906.0,1108.4 L907.5,1108.7 L909.0,1108.3 L910.5,1108.4 L912.0,1108.5 L913.5,1108.2 L915.0,1108.3 L916.5,1108.3 L918.0,1108.7 L919.5,1108.2 L921.0,1108.3 L922.5,1108.3 L924.0,1108.5 L925.5,1108.3 L927.0,1108.1 L928.5,1108.1 L930.0,1108.2 L931.5,1108.6 L933.0,1108.6 L934.5,1108.2 L936.0,1108.2 L937.5,1108.3 L939.0,1108.4 L940.5,1108.1 L942.0,1107.8 L943.5,1107.9 L945.0,1107.5 L946.5,1107.0 L948.0,1106.6 L949.5,1106.3 L951.0,1104.8 L952.5,1103.4 L954.0,1101.6 L955.5,1099.4 L957.0,1096.9 L958.5,1094.8 L960.0,1094.5 L961.5,1095.3 L963.0,1096.7 L964.5,1099.0 L966.0,1101.6 L967.5,1103.6 L969.0,1105.0 L970.5,1105.7 L972.0,1106.8 L973.5,1107.2 L975.0,1107.6 L976.5,1107.9 L978.0,1107.7 L979.5,1108.1 L981.0,1107.9 L982.5,1108.4 L984.0,1107.9 L985.5,1108.3 L987.0,1107.9 L988.5,1107.9 L990.0,1108.1 L991.5,1108.2 L993.0,1108.1 L994.5,1107.9 L996.0,1107.9 L997.5,1107.9 L999.0,1108.3 L1000.5,1108.6 L1002.0,1108.4 L1003.5,1107.9 L1005.0,1108.3 L1006.5,1108.0 L1008.0,1108.0 L1009.5,1108.1 L1011.0,1107.9 L1012.5,1108.3 L1014.0,1107.9 L1015.5,1107.9 L1017.0,1107.7 L1018.5,1107.8 L1020.0,1107.9 L1021.5,1107.9 L1023.0,1107.8 L1024.5,1107.6 L1026.0,1107.6 L1027.5,1107.4 L1029.0,1107.4 L1030.5,1107.4 L1032.0,1106.7 L1033.5,1106.3 L1035.0,1106.0 L1036.5,1105.1 L1038.0,1104.6 L1039.5,1103.5 L1041.0,1102.2 L1042.5,1100.3 L1044.0,1098.6 L1045.5,1096.3 L1047.0,1093.8 L1048.5,1091.3 L1050.0,1088.9 L1051.5,1087.2 L1053.0,1085.8 L1054.5,1085.8 L1056.0,1086.8 L1057.5,1089.5 L1059.0,1093.0 L1060.5,1095.8 L1062.0,1099.0 L1063.5,1101.0 L1065.0,1103.1 L1066.5,1104.9 L1068.0,1105.3 L1069.5,1106.2 L1071.0,1106.4 L1072.5,1107.2 L1074.0,1107.5 L1075.5,1107.8 L1077.0,1107.9 L1078.5,1107.5 L1080.0,1107.4 L1081.5,1107.8 L1083.0,1108.4 L1084.5,1108.5 L1086.0,1108.4 L1087.5,1108.5 L1089.0,1108.1 L1090.5,1108.4 L1092.0,1108.2 L1093.5,1107.9 L1095.0,1108.1 L1096.5,1108.1 L1098.0,1108.0 L1099.5,1108.2 L1101.0,1108.6 L1102.5,1108.4 L1104.0,1108.4 L1105.5,1108.6 L1107.0,1108.5 L1108.5,1108.2 L1110.0,1108.7 L1111.5,1108.5 L1113.0,1108.7 L1114.5,1108.5 L1116.0,1108.7 L1117.5,1108.5 L1119.0,1108.3 L1120.5,1108.2 L1122.0,1108.7 L1123.5,1108.7 L1125.0,1108.2 L1126.5,1108.3 L1128.0,1108.2 L1129.5,1108.1 L1131.0,1108.1 L1132.5,1108.0 L1134.0,1108.4 L1135.5,1108.2 L1137.0,1108.5 L1138.5,1108.6 L1140.0,1108.7 L1141.5,1108.6 L1143.0,1108.4 L1144.5,1108.7 L1146.0,1108.5 L1147.5,1108.4 L1149.0,1108.6 L1150.5,1108.5 L1152.0,1108.8 L1153.5,1108.9 L1155.0,1109.0 L1156.5,1109.0 L1158.0,1108.7 L1159.5,1108.5 L1161.0,1108.6 L1162.5,1108.2 L1164.0,1108.1 L1165.5,1107.8 L1167.0,1107.8 L1168.5,1107.6 L1170.0,1108.0 L1171.5,1107.7 L1173.0,1108.1 L1174.5,1108.1 L1176.0,1108.2 L1177.5,1107.7 L1179.0,1107.7 L1180.5,1107.1 L1182.0,1106.3 L1183.5,1104.9 L1185.0,1103.5 L1186.5,1100.5 L1188.0,1095.9 L1189.5,1090.4 L1191.0,1084.6 L1192.5,1080.1 L1194.0,1079.4 L1195.5,1082.8 L1197.0,1088.1 L1198.5,1094.0 L1200.0,1098.7 L1201.5,1102.1 L1203.0,1104.7 L1204.5,1106.2 L1206.0,1106.7 L1207.5,1107.5 L1209.0,1107.4 L1210.5,1107.6 L1212.0,1108.0 L1213.5,1107.7 L1215.0,1108.3 L1216.5,1107.9 L1218.0,1108.1 L1219.5,1108.4 L1221.0,1108.0 L1222.5,1108.4 L1224.0,1108.8 L1225.5,1108.5 L1227.0,1108.2 L1228.5,1108.0 L1230.0,1108.0 L1231.5,1108.5 L1233.0,1108.4 L1234.5,1108.8 L1236.0,1108.6 L1237.5,1108.2 L1239.0,1108.3 L1240.5,1108.6 L1242.0,1108.8 L1243.5,1108.3 L1245.0,1108.2 L1246.5,1108.4 L1248.0,1108.2 L1249.5,1108.7 L1251.0,1109.0 L1252.5,1108.6 L1254.0,1108.5 L1255.5,1108.6 L1257.0,1108.4 L1258.5,1108.5 L1260.0,1108.3 L1261.5,1108.3 L1263.0,1108.4 L1264.5,1108.6 L1266.0,1108.6 L1267.5,1108.4 L1269.0,1108.3 L1270.5,1108.2 L1272.0,1108.6 L1273.5,1108.3 L1275.0,1108.6 L1276.5,1108.4 L1278.0,1108.3 L1279.5,1108.7 L1281.0,1108.7 L1282.5,1108.8 L1284.0,1108.7 L1285.5,1108.9 L1287.0,1108.4 L1288.5,1108.6 L1290.0,1108.3 L1291.5,1108.6 L1293.0,1108.5 L1294.5,1108.7 L1296.0,1108.8 L1297.5,1108.8 L1299.0,1108.4 L1300.5,1108.8 L1302.0,1108.4 L1303.5,1108.5 L1305.0,1108.7 L1306.5,1108.4 L1308.0,1108.6 L1309.5,1108.4 L1311.0,1108.2 L1312.5,1108.6 L1314.0,1108.6 L1315.5,1108.4 L1317.0,1108.5 L1318.5,1108.1 L1320.0,1108.0 L1321.5,1108.2 L1323.0,1108.7 L1324.5,1108.6 L1326.0,1108.1 L1327.5,1108.5 L1329.0,1108.6 L1330.5,1108.6 L1332.0,1108.3 L1333.5,1108.3 L1335.0,1107.7 L1336.5,1107.8 L1338.0,1107.6 L1339.5,1107.3 L1341.0,1106.5 L1342.5,1106.0 L1344.0,1105.4 L1345.5,1104.9 L1347.0,1103.6 L1348.5,1103.2 L1350.0,1102.3 L1351.5,1101.4 L1353.0,1100.7 L1354.5,1099.9 L1356.0,1099.5 L1357.5,1099.6 L1359.0,1099.8 L1360.5,1100.0 L1362.0,1100.7 L1363.5,1100.6 L1365.0,1100.1 L1366.5,1099.4 L1368.0,1096.6 L1369.5,1092.7 L1371.0,1087.0 L1372.5,1079.9 L1374.0,1072.6 L1375.5,1067.3 L1377.0,1066.9 L1378.5,1071.6 L1380.0,1079.5 L1381.5,1087.5 L1383.0,1093.7 L1384.5,1098.5 L1386.0,1101.9 L1387.5,1104.1 L1389.0,1105.1 L1390.5,1106.1 L1392.0,1106.4 L1393.5,1106.7 L1395.0,1107.1 L1396.5,1107.5 L1398.0,1107.3 L1399.5,1107.2 L1401.0,1107.7 L1402.5,1107.4 L1404.0,1107.4 L1405.5,1107.6 L1407.0,1108.0 L1408.5,1107.8 L1410.0,1107.7 L1411.5,1108.4 L1413.0,1108.3 L1414.5,1108.6 L1416.0,1108.2 L1417.5,1108.2 L1419.0,1108.2 L1420.5,1108.1 L1422.0,1108.1 L1423.5,1108.7 L1425.0,1108.7 L1426.5,1108.5 L1428.0,1108.4 L1429.5,1108.3 L1431.0,1108.4 L1432.5,1108.7 L1434.0,1108.7 L1435.5,1108.6 L1437.0,1108.2 L1438.5,1108.7 L1440.0,1108.5 L1441.5,1108.5 L1443.0,1108.1 L1444.5,1108.1 L1446.0,1108.7 L1447.5,1108.6 L1449.0,1108.8 L1450.5,1108.4 L1452.0,1108.4 L1453.5,1108.8 L1455.0,1108.9 L1456.5,1108.5 L1458.0,1108.2 L1459.5,1108.7 L1461.0,1108.4 L1462.5,1108.7 L1464.0,1108.8 L1465.5,1108.4 L1467.0,1108.2 L1468.5,1108.8 L1470.0,1108.8 L1471.5,1108.8 L1473.0,1108.6 L1474.5,1108.3 L1476.0,1108.6 L1477.5,1108.4 L1479.0,1108.8 L1480.5,1108.9 L1482.0,1108.3 L1483.5,1108.8 L1485.0,1108.3 L1486.5,1108.2 L1488.0,1108.3 L1489.5,1108.2 L1491.0,1108.3 L1492.5,1108.4 L1494.0,1108.7 L1495.5,1108.6 L1497.0,1108.4 L1498.5,1108.5 L1500.0,1108.5 L1501.5,1108.4 L1503.0,1108.9 L1504.5,1108.8 L1506.0,1109.0 L1507.5,1109.0 L1509.0,1108.8 L1510.5,1108.5 L1512.0,1108.7 L1513.5,1108.6 L1515.0,1108.8 L1516.5,1108.6 L1518.0,1108.6 L1519.5,1108.2 L1521.0,1108.7 L1522.5,1108.3 L1524.0,1108.6 L1525.5,1108.7 L1527.0,1108.9 L1528.5,1108.5 L1530.0,1108.7 L1531.5,1108.4 L1533.0,1108.6 L1534.5,1108.5 L1536.0,1108.9 L1537.5,1109.1 L1539.0,1108.6 L1540.5,1108.6 L1542.0,1108.5 L1543.5,1108.9 L1545.0,1109.0 L1546.5,1108.8 L1548.0,1108.8 L1549.5,1108.8 L1551.0,1108.5 L1552.5,1108.9 L1554.0,1109.0 L1555.5,1108.6 L1557.0,1108.7 L1558.5,1108.2 L1560.0,1108.6 L1561.5,1108.6 L1563.0,1108.8 L1564.5,1108.5 L1566.0,1108.5 L1567.5,1108.3 L1569.0,1108.5 L1570.5,1108.5 L1572.0,1108.7 L1573.5,1108.0 L1575.0,1107.8 L1576.5,1107.6 L1578.0,1107.5 L1579.5,1107.9 L1581.0,1108.0 L1582.5,1107.4 L1584.0,1107.1 L1585.5,1106.3 L1587.0,1105.1 L1588.5,1103.6 L1590.0,1101.3 L1591.5,1099.4 L1593.0,1097.6 L1594.5,1097.0 L1596.0,1096.8 L1597.5,1097.9 L1599.0,1100.1 L1600.5,1101.7 L1602.0,1103.3 L1603.5,1105.0 L1605.0,1106.3 L1606.5,1107.0 L1608.0,1107.6 L1609.5,1107.5 L1611.0,1107.6 L1612.5,1107.8 L1614.0,1108.4 L1615.5,1108.4 L1617.0,1108.6 L1618.5,1108.4 L1620.0,1108.4 L1621.5,1108.7 L1623.0,1108.2 L1624.5,1108.5 L1626.0,1108.6 L1627.5,1108.7 L1629.0,1108.7 L1630.5,1108.2 L1632.0,1108.4 L1633.5,1108.7 L1635.0,1108.5 L1636.5,1108.3 L1638.0,1108.7 L1639.5,1108.5 L1641.0,1108.3 L1642.5,1108.3 L1644.0,1108.5 L1645.5,1108.1 L1647.0,1107.7 L1648.5,1107.9 L1650.0,1108.3 L1651.5,1108.1 L1653.0,1107.8 L1654.5,1107.5 L1656.0,1107.0 L1657.5,1106.6 L1659.0,1105.5 L1660.5,1104.9 L1662.0,1103.4 L1663.5,1102.5 L1665.0,1101.3 L1666.5,1099.6 L1668.0,1099.1 L1669.5,1099.4 L1671.0,1100.1 L1672.5,1101.3 L1674.0,1102.8 L1675.5,1104.1 L1677.0,1105.5 L1678.5,1105.8 L1680.0,1106.9 L1681.5,1107.6 L1683.0,1107.8 L1684.5,1108.2 L1686.0,1107.9 L1687.5,1108.3 L1689.0,1108.5 L1690.5,1108.4 L1692.0,1108.0 L1693.5,1107.8 L1695.0,1107.8 L1696.5,1107.9 L1698.0,1108.4 L1699.5,1108.3 L1701.0,1108.6 L1702.5,1108.6 L1704.0,1108.4 L1705.5,1108.8 L1707.0,1108.2 L1708.5,1108.4 L1710.0,1108.7 L1711.5,1108.3 L1713.0,1108.6 L1714.5,1108.4 L1716.0,1108.1 L1717.5,1108.4 L1719.0,1108.5 L1720.5,1108.2 L1722.0,1108.4 L1723.5,1108.4 L1725.0,1108.1 L1726.5,1108.1 L1728.0,1108.1 L1729.5,1108.4 L1731.0,1108.1 L1732.5,1108.7 L1734.0,1108.9 L1735.5,1109.0 L1737.0,1108.6 L1738.5,1108.9 L1740.0,1109.1 L1741.5,1109.0 L1743.0,1108.5 L1744.5,1108.7 L1746.0,1108.7 L1747.5,1108.5 L1749.0,1108.4 L1750.5,1108.1 L1752.0,1108.1 L1753.5,1108.1 L1755.0,1108.3 L1756.5,1108.5 L1758.0,1108.7 L1759.5,1108.2 L1761.0,1108.6 L1762.5,1108.1 L1764.0,1108.3 L1765.5,1108.5 L1767.0,1108.5 L1768.5,1108.7 L1770.0,1108.3 L1771.5,1108.3 L1773.0,1107.8 L1774.5,1107.9 L1776.0,1107.9 L1777.5,1107.1 L1779.0,1106.3 L1780.5,1105.6 L1782.0,1103.9 L1783.5,1102.1 L1785.0,1100.9 L1786.5,1100.2 L1788.0,1099.8 L1789.5,1101.5 L1791.0,1103.1 L1792.5,1104.3 L1794.0,1105.9 L1795.5,1106.9 L1797.0,1107.1 L1798.5,1107.8 L1800.0,1108.3 L1801.5,1107.9 L1803.0,1108.2 L1804.5,1108.2 L1806.0,1108.1 L1807.5,1108.2 L1809.0,1108.1 L1810.5,1108.1 L1812.0,1108.4 L1813.5,1108.4 L1815.0,1108.5 L1816.5,1108.5 L1818.0,1108.7 L1819.5,1108.5 L1821.0,1108.7 L1822.5,1108.3 L1824.0,1108.3 L1825.5,1108.3 L1827.0,1108.4 L1828.5,1108.7 L1830.0,1108.6 L1831.5,1108.9 L1833.0,1109.0 L1834.5,1108.4 L1836.0,1108.3 L1837.5,1108.1 L1839.0,1108.5 L1840.5,1108.1 L1842.0,1108.7 L1843.5,1108.3 L1845.0,1108.4 L1846.5,1108.1 L1848.0,1108.2 L1849.5,1108.3 L1851.0,1108.0 L1852.5,1108.5 L1854.0,1108.6 L1855.5,1108.4 L1857.0,1108.7 L1858.5,1108.2 L1860.0,1108.0 L1861.5,1108.1 L1863.0,1108.6 L1864.5,1108.7 L1866.0,1108.7 L1867.5,1108.6 L1869.0,1108.7 L1870.5,1108.4 L1872.0,1108.0 L1873.5,1108.5 L1875.0,1108.1 L1876.5,1108.2 L1878.0,1108.1 L1879.5,1107.9 L1881.0,1108.0 L1882.5,1107.9 L1884.0,1108.2 L1885.5,1108.3 L1887.0,1107.8 L1888.5,1108.0 L1890.0,1108.1 L1891.5,1108.4 L1893.0,1108.2 L1894.5,1107.7 L1896.0,1107.5 L1897.5,1108.0 L1899.0,1108.2 L1900.5,1108.2 L1902.0,1107.7 L1903.5,1107.8 L1905.0,1107.3 L1906.5,1107.7 L1908.0,1107.4 L1909.5,1107.6 L1911.0,1107.3 L1912.5,1106.7 L1914.0,1107.1 L1915.5,1106.8 L1917.0,1106.3 L1918.5,1105.7 L1920.0,1105.6 L1921.5,1105.0 L1923.0,1104.8 L1924.5,1104.0 L1926.0,1103.2 L1927.5,1102.8 L1929.0,1101.5 L1930.5,1099.4 L1932.0,1097.5 L1933.5,1094.3 L1935.0,1090.4 L1936.5,1084.9 L1938.0,1078.9 L1939.5,1072.5 L1941.0,1067.4 L1942.5,1066.6 L1944.0,1070.1 L1945.5,1076.0 L1947.0,1082.4 L1948.5,1088.0 L1950.0,1093.0 L1951.5,1096.3 L1953.0,1099.1 L1954.5,1100.6 L1956.0,1102.2 L1957.5,1102.9 L1959.0,1104.3 L1960.5,1104.4 L1962.0,1105.1 L1963.5,1105.8 L1965.0,1106.5 L1966.5,1106.1 L1968.0,1106.8 L1969.5,1106.9 L1971.0,1106.7 L1972.5,1107.2 L1974.0,1107.0 L1975.5,1107.4 L1977.0,1107.7 L1978.5,1107.8 L1980.0,1107.7 L1981.5,1107.4 L1983.0,1107.6 L1984.5,1108.1 L1986.0,1107.9 L1987.5,1107.8 L1989.0,1107.7 L1990.5,1107.9 L1992.0,1108.1 L1993.5,1107.8 L1995.0,1107.9 L1996.5,1108.2 L1998.0,1108.6 L1999.5,1108.3 L2001.0,1108.2 L2002.5,1108.3 L2004.0,1108.1 L2005.5,1108.1 L2007.0,1108.4 L2008.5,1108.3 L2010.0,1108.4 L2011.5,1108.7 L2013.0,1108.9 L2014.5,1108.9 L2016.0,1108.5 L2017.5,1108.1 L2019.0,1108.4 L2020.5,1108.4 L2022.0,1108.2 L2023.5,1108.0 L2025.0,1108.1 L2026.5,1108.6 L2028.0,1108.9 L2029.5,1108.3 L2031.0,1108.7 L2032.5,1108.2 L2034.0,1108.6 L2035.5,1108.2 L2037.0,1108.3 L2038.5,1108.7 L2040.0,1108.5 L2041.5,1108.9 L2043.0,1108.8 L2044.5,1108.7 L2046.0,1108.3 L2047.5,1108.3 L2049.0,1108.4 L2050.5,1108.6 L2052.0,1108.9 L2053.5,1108.5 L2055.0,1108.5 L2056.5,1108.9 L2058.0,1108.6 L2059.5,1108.7 L2061.0,1108.8 L2062.5,1108.8 L2064.0,1108.8 L2065.5,1108.4 L2067.0,1108.9 L2068.5,1108.4 L2070.0,1108.6 L2071.5,1108.4 L2073.0,1108.6 L2074.5,1108.4 L2076.0,1108.4 L2077.5,1108.7 L2079.0,1108.4 L2080.5,1108.7 L2082.0,1108.5 L2083.5,1108.2 L2085.0,1108.5 L2086.5,1108.3 L2088.0,1108.4 L2089.5,1108.4 L2091.0,1108.1 L2092.5,1108.5 L2094.0,1108.7 L2095.5,1108.8 L2097.0,1108.6 L2098.5,1108.6 L2100.0,1108.2 L2101.5,1108.1 L2103.0,1108.1 L2104.5,1108.3 L2106.0,1108.6 L2107.5,1108.3 L2109.0,1108.6 L2110.5,1108.5 L2112.0,1108.5 L2113.5,1108.1 L2115.0,1107.7 L2116.5,1108.1 L2118.0,1108.0 L2119.5,1107.3 L2121.0,1106.9 L2122.5,1106.2 L2124.0,1104.6 L2125.5,1103.2 L2127.0,1101.4 L2128.5,1100.1 L2130.0,1099.3 L2131.5,1099.2 L2133.0,1099.9 L2134.5,1101.0 L2136.0,1102.9 L2137.5,1104.6 L2139.0,1105.5 L2140.5,1106.7 L2142.0,1107.2 L2143.5,1107.9 L2145.0,1108.3 L2146.5,1108.4"/>
<g fill="#000">
<path d="M673.0,84.8 Q679.6,91.5 684.8,100.0 Q679.6,108.5 673.0,115.2 Q666.4,108.5 661.2,100.0 Q666.4,91.5 673.0,84.8Z"/>
<path d="M193.0,218.2 Q199.6,224.9 204.8,233.4 Q199.6,241.9 193.0,248.7 Q186.4,241.9 181.2,233.4 Q186.4,224.9 193.0,218.2Z"/>
<path d="M1053.8,218.2 Q1060.4,224.9 1065.5,233.4 Q1060.4,241.9 1053.8,248.7 Q1047.2,241.9 1042.0,233.4 Q1047.2,224.9 1053.8,218.2Z"/>
<path d="M1376.0,198.3 Q1382.6,205.1 1387.8,213.6 Q1382.6,222.1 1376.0,228.8 Q1369.4,222.1 1364.2,213.6 Q1369.4,205.1 1376.0,198.3Z"/>
<path d="M1671.0,221.6 Q1677.6,228.3 1682.8,236.8 Q1677.6,245.3 1671.0,252.1 Q1664.4,245.3 1659.2,236.8 Q1664.4,228.3 1671.0,221.6Z"/>
<path d="M1941.0,196.1 Q1947.6,202.8 1952.8,211.3 Q1947.6,219.8 1941.0,226.6 Q1934.4,219.8 1929.2,211.3 Q1934.4,202.8 1941.0,196.1Z"/>
<rect x="497.8" y="220.1" width="24.5" height="23.8"/>
<rect x="542.0" y="212.9" width="24.5" height="23.8"/>
<rect x="586.8" y="228.6" width="24.5" height="23.8"/>
<path d="M673.0,360.6 Q679.6,367.3 684.8,375.8 Q679.6,384.3 673.0,391.1 Q666.4,384.3 661.2,375.8 Q666.4,367.3 673.0,360.6Z"/>
<path d="M193.0,494.4 Q199.6,501.1 204.8,509.6 Q199.6,518.1 193.0,524.9 Q186.4,518.1 181.2,509.6 Q186.4,501.1 193.0,494.4Z"/>
<path d="M1054.0,493.8 Q1060.6,500.5 1065.8,509.0 Q1060.6,517.5 1054.0,524.2 Q1047.4,517.5 1042.2,509.0 Q1047.4,500.5 1054.0,493.8Z"/>
<path d="M1376.0,473.2 Q1382.6,480.0 1387.8,488.5 Q1382.6,497.0 1376.0,503.8 Q1369.4,497.0 1364.2,488.5 Q1369.4,480.0 1376.0,473.2Z"/>
<path d="M1671.0,497.5 Q1677.6,504.2 1682.8,512.7 Q1677.6,521.2 1671.0,528.0 Q1664.4,521.2 1659.2,512.7 Q1664.4,504.2 1671.0,497.5Z"/>
<path d="M1941.0,470.4 Q1947.6,477.2 1952.8,485.7 Q1947.6,494.2 1941.0,500.9 Q1934.4,494.2 1929.2,485.7 Q1934.4,477.2 1941.0,470.4Z"/>
<ellipse cx="679.0" cy="683.0" rx="11.6" ry="11.3"/>
<ellipse cx="188.0" cy="790.0" rx="11.6" ry="11.3"/>
<ellipse cx="409.0" cy="794.0" rx="11.6" ry="11.3"/>
<ellipse cx="1057.5" cy="791.0" rx="11.6" ry="11.3"/>
<ellipse cx="1192.0" cy="797.5" rx="11.6" ry="11.3"/>
<ellipse cx="1378.0" cy="789.0" rx="11.6" ry="11.3"/>
<ellipse cx="1590.0" cy="802.0" rx="11.6" ry="11.3"/>
<ellipse cx="1675.0" cy="797.0" rx="11.6" ry="11.3"/>
<ellipse cx="1783.0" cy="803.0" rx="11.6" ry="11.3"/>
<ellipse cx="1945.5" cy="781.8" rx="11.6" ry="11.3"/>
<ellipse cx="676.7" cy="885.9" rx="11.6" ry="11.3"/>
<ellipse cx="185.0" cy="1046.0" rx="11.6" ry="11.3"/>
<ellipse cx="411.0" cy="1048.0" rx="11.6" ry="11.3"/>
<ellipse cx="957.0" cy="1064.5" rx="11.6" ry="11.3"/>
<ellipse cx="1055.0" cy="1064.5" rx="11.6" ry="11.3"/>
<ellipse cx="1191.0" cy="1044.0" rx="11.6" ry="11.3"/>
<ellipse cx="1374.0" cy="1043.0" rx="11.6" ry="11.3"/>
<ellipse cx="1595.0" cy="1064.0" rx="11.6" ry="11.3"/>
<ellipse cx="1669.0" cy="1071.0" rx="11.6" ry="11.3"/>
<ellipse cx="1782.0" cy="1073.0" rx="11.6" ry="11.3"/>
<ellipse cx="1942.0" cy="1039.0" rx="11.6" ry="11.3"/>
</g>
<text class="pl" text-anchor="middle" transform="translate(408.2,781.1) scale(1.075,1)">+</text>
<text class="pl" text-anchor="middle" transform="translate(637.0,805.2) scale(1.075,1)">+</text>
<text class="pl" text-anchor="middle" transform="translate(1056.4,776.8) scale(1.075,1)">+</text>
<text class="pl" text-anchor="middle" transform="translate(1376.8,773.4) scale(1.075,1)">+</text>
<text class="pl" text-anchor="middle" transform="translate(412.0,1036.2) scale(1.075,1)">+</text>
<text class="pl" text-anchor="middle" transform="translate(638.0,1079.4) scale(1.075,1)">+</text>
<text class="pl" text-anchor="middle" transform="translate(1056.0,1044.7) scale(1.075,1)">+</text>
<text class="pl" text-anchor="middle" transform="translate(1378.0,1023.2) scale(1.075,1)">+</text>
<text class="lb" transform="translate(1999.0,251.7) scale(0.975,1)">BFC4</text>
<text class="lb" transform="translate(2003.3,538.8) scale(0.975,1)">BFC3</text>
<text class="lb" transform="translate(2004.4,801.7) scale(0.945,1)">BFC1</text>
<text class="lb" transform="translate(2002.8,1071.2) scale(0.985,1)">BFC0</text>
<g fill="#000">
<ellipse cx="149.4" cy="45.6" rx="22.3" ry="21.1"/>
<path d="M781.0,23.0 Q790.9,33.3 798.8,46.3 Q790.9,59.3 781.0,69.5 Q771.1,59.3 763.2,46.3 Q771.1,33.3 781.0,23.0Z"/>
<rect x="1832.0" y="24.5" width="45.5" height="42.0"/>
</g>
<text class="lg" x="192.3" y="67.3">BaFeO<tspan class="sb" dx="-1" dy="11">3</tspan><tspan dy="-11"> (hexagonal)</tspan></text>
<text class="lg" x="817.5" y="67.3">BaFeO<tspan class="sb" dx="-1" dy="11">3</tspan><tspan dy="-11"> (cubic)</tspan></text>
<text class="pl" text-anchor="middle" transform="translate(1279.6,75.4) scale(1.075,1)">+</text>
<text class="lg" x="1307.5" y="67.3">BaFeO<tspan class="sb" dx="-1" dy="11">3</tspan><tspan dy="-11"> (triclinic)</tspan></text>
<text class="lg" x="1898.0" y="67.3">BaCuO<tspan class="sb" dx="-1" dy="11">2</tspan></text>
<text y="1289.3"><tspan class="a2" x="1041.0">2</tspan><tspan class="at" x="1071.5">θ </tspan><tspan class="au" x="1121.7">(</tspan><tspan class="dg" x="1141.2" dy="4.7">°</tspan><tspan class="au" x="1167.3" dy="-4.7">)</tspan></text>
<text class="ay" transform="translate(66.2,830.0) rotate(-90) scale(0.966,1)">Intensity (a.u.)</text>
</g>
</svg>
</body></html>
